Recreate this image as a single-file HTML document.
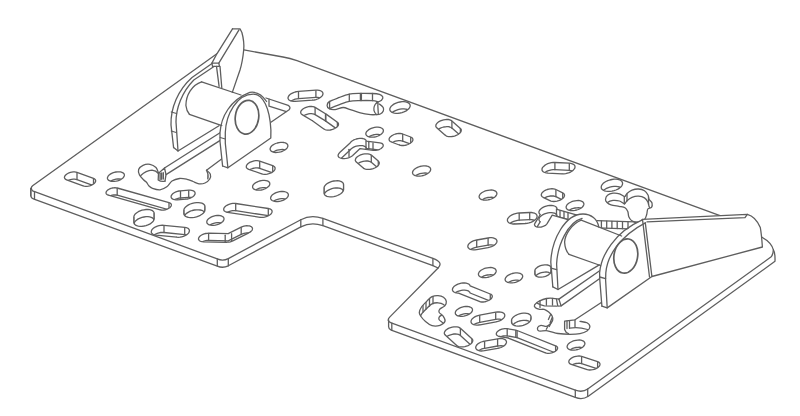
<!DOCTYPE html><html><head><meta charset="utf-8"><title>Mounting plate drawing</title><style>html,body{margin:0;padding:0;background:#fff;overflow:hidden}svg{display:block}</style></head><body><svg width="800" height="416" viewBox="0 0 800 416"><rect width="800" height="416" fill="#fff"/><g fill="none" stroke="#5e5e5e" stroke-width="1.3" stroke-linejoin="round" stroke-linecap="round"><path d="M216.9,53.8 L32.6,185.7 Q30,187.8 32.6,190.9 L217.3,258.9 Q222.8,261.3 228.3,258.6 L300.8,219.7 Q311,214.2 322.9,218.4 L432.9,258.4 Q443.8,262.3 438.1,268 L389.9,316.9 Q385.9,321 391.2,322.9 L575.3,390.2 Q582.4,392.8 587.7,389 L771.2,256.8 Q773.2,254.5 773.4,249.8"/>
<path d="M762,237.2 C768,240.5 772,244.5 773.4,249.8 C775,252 775.2,255 775,261.3 L588.3,396.2 Q582.4,400.2 575.3,397.4 L391.2,330.1 Q388.6,329 388.6,326.8 L388.6,319.8"/>
<path d="M243.9,49.9 L283,57 Q290,58.3 297,60.7 L720,215.7"/>
<path d="M30.8,188.5 L30.8,195.8 Q31,198.2 34,199.2 L217.3,266.1 Q222.8,268.5 228.3,265.8 L300.8,226.9 Q311,221.4 322.9,225.6 L432.9,265.6 L438.1,268"/>
<path d="M30.8,188.5 v7.2"/>
<path d="M34.5,191.6 v7.2"/>
<path d="M217.3,258.9 v7.2"/>
<path d="M228.3,258.6 v7.2"/>
<path d="M300.8,219.7 v7.2"/>
<path d="M322.9,218.4 v7.2"/>
<path d="M432.9,258.4 v7.2"/>
<path d="M391.8,323.1 v7.2"/>
<path d="M575.3,390.2 v7.2"/>
<path d="M587.7,389.0 v7.2"/>
<clipPath id="c1"><path d="M93.5,178.4L94.4,178.8L95.1,179.4L95.5,180.0L95.7,180.8L95.5,181.6L95.1,182.4L94.4,183.2L93.5,184.0L92.4,184.7L91.1,185.3L89.7,185.8L88.3,186.1L86.9,186.3L85.5,186.3L84.2,186.1L83.1,185.8L66.6,179.8L65.7,179.4L65.0,178.8L64.6,178.2L64.4,177.4L64.6,176.6L65.0,175.8L65.7,175.0L66.6,174.2L67.7,173.5L69.0,172.9L70.4,172.4L71.8,172.1L73.2,171.9L74.6,171.9L75.9,172.1L77.0,172.4Z"/></clipPath><g clip-path="url(#c1)"><path d="M93.5,178.4L94.4,178.8L95.1,179.4L95.5,180.0L95.7,180.8L95.5,181.6L95.1,182.4L94.4,183.2L93.5,184.0L92.4,184.7L91.1,185.3L89.7,185.8L88.3,186.1L86.9,186.3L85.5,186.3L84.2,186.1L83.1,185.8L66.6,179.8L65.7,179.4L65.0,178.8L64.6,178.2L64.4,177.4L64.6,176.6L65.0,175.8L65.7,175.0L66.6,174.2L67.7,173.5L69.0,172.9L70.4,172.4L71.8,172.1L73.2,171.9L74.6,171.9L75.9,172.1L77.0,172.4Z" transform="translate(0,7.2)"/><path d="M77.0,172.4v7.2"/><path d="M66.6,179.8v7.2"/><path d="M93.5,178.4v7.2"/><path d="M83.1,185.8v7.2"/></g>
<path d="M93.5,178.4L94.4,178.8L95.1,179.4L95.5,180.0L95.7,180.8L95.5,181.6L95.1,182.4L94.4,183.2L93.5,184.0L92.4,184.7L91.1,185.3L89.7,185.8L88.3,186.1L86.9,186.3L85.5,186.3L84.2,186.1L83.1,185.8L66.6,179.8L65.7,179.4L65.0,178.8L64.6,178.2L64.4,177.4L64.6,176.6L65.0,175.8L65.7,175.0L66.6,174.2L67.7,173.5L69.0,172.9L70.4,172.4L71.8,172.1L73.2,171.9L74.6,171.9L75.9,172.1L77.0,172.4Z"/>
<clipPath id="c2"><path d="M121.9,178.8L120.6,179.6L119.1,180.3L117.6,180.8L115.9,181.2L114.2,181.4L112.7,181.4L111.2,181.3L109.9,180.9L108.8,180.4L108.1,179.8L107.6,179.0L107.4,178.1L107.6,177.2L108.1,176.2L108.8,175.3L109.9,174.4L111.2,173.6L112.7,172.9L114.2,172.4L115.9,172.0L117.6,171.8L119.1,171.8L120.6,171.9L121.9,172.3L123.0,172.8L123.7,173.4L124.2,174.2L124.4,175.1L124.2,176.0L123.7,177.0L123.0,177.9Z"/></clipPath><g clip-path="url(#c2)"><path d="M121.9,178.8L120.6,179.6L119.1,180.3L117.6,180.8L115.9,181.2L114.2,181.4L112.7,181.4L111.2,181.3L109.9,180.9L108.8,180.4L108.1,179.8L107.6,179.0L107.4,178.1L107.6,177.2L108.1,176.2L108.8,175.3L109.9,174.4L111.2,173.6L112.7,172.9L114.2,172.4L115.9,172.0L117.6,171.8L119.1,171.8L120.6,171.9L121.9,172.3L123.0,172.8L123.7,173.4L124.2,174.2L124.4,175.1L124.2,176.0L123.7,177.0L123.0,177.9Z" transform="translate(0,7.2)"/></g>
<path d="M121.9,178.8L120.6,179.6L119.1,180.3L117.6,180.8L115.9,181.2L114.2,181.4L112.7,181.4L111.2,181.3L109.9,180.9L108.8,180.4L108.1,179.8L107.6,179.0L107.4,178.1L107.6,177.2L108.1,176.2L108.8,175.3L109.9,174.4L111.2,173.6L112.7,172.9L114.2,172.4L115.9,172.0L117.6,171.8L119.1,171.8L120.6,171.9L121.9,172.3L123.0,172.8L123.7,173.4L124.2,174.2L124.4,175.1L124.2,176.0L123.7,177.0L123.0,177.9Z"/>
<clipPath id="c3"><path d="M169.0,202.6L169.9,203.0L170.6,203.4L171.1,204.0L171.4,204.7L171.3,205.4L171.1,206.2L170.5,206.9L169.8,207.7L168.8,208.3L167.7,208.9L166.5,209.4L165.2,209.8L163.8,210.0L162.5,210.1L161.3,210.0L160.2,209.8L108.4,195.2L107.5,194.8L106.8,194.4L106.3,193.8L106.0,193.1L106.1,192.4L106.3,191.6L106.9,190.9L107.6,190.1L108.6,189.5L109.7,188.9L110.9,188.4L112.2,188.0L113.6,187.8L114.9,187.7L116.1,187.8L117.2,188.0Z"/></clipPath><g clip-path="url(#c3)"><path d="M169.0,202.6L169.9,203.0L170.6,203.4L171.1,204.0L171.4,204.7L171.3,205.4L171.1,206.2L170.5,206.9L169.8,207.7L168.8,208.3L167.7,208.9L166.5,209.4L165.2,209.8L163.8,210.0L162.5,210.1L161.3,210.0L160.2,209.8L108.4,195.2L107.5,194.8L106.8,194.4L106.3,193.8L106.0,193.1L106.1,192.4L106.3,191.6L106.9,190.9L107.6,190.1L108.6,189.5L109.7,188.9L110.9,188.4L112.2,188.0L113.6,187.8L114.9,187.7L116.1,187.8L117.2,188.0Z" transform="translate(0,7.2)"/><path d="M117.2,188.0v7.2"/><path d="M108.4,195.2v7.2"/><path d="M169.0,202.6v7.2"/><path d="M160.2,209.8v7.2"/></g>
<path d="M169.0,202.6L169.9,203.0L170.6,203.4L171.1,204.0L171.4,204.7L171.3,205.4L171.1,206.2L170.5,206.9L169.8,207.7L168.8,208.3L167.7,208.9L166.5,209.4L165.2,209.8L163.8,210.0L162.5,210.1L161.3,210.0L160.2,209.8L108.4,195.2L107.5,194.8L106.8,194.4L106.3,193.8L106.0,193.1L106.1,192.4L106.3,191.6L106.9,190.9L107.6,190.1L108.6,189.5L109.7,188.9L110.9,188.4L112.2,188.0L113.6,187.8L114.9,187.7L116.1,187.8L117.2,188.0Z"/>
<clipPath id="c4"><path d="M188.7,190.2L190.2,190.2L191.6,190.3L192.8,190.7L193.8,191.1L194.5,191.7L195.0,192.5L195.1,193.3L195.0,194.1L194.5,195.0L193.8,195.9L192.8,196.7L191.6,197.5L190.3,198.1L188.8,198.6L187.3,199.0L185.7,199.2L177.5,199.8L176.0,199.8L174.6,199.7L173.4,199.3L172.4,198.9L171.7,198.3L171.2,197.5L171.1,196.7L171.2,195.9L171.7,195.0L172.4,194.1L173.4,193.3L174.6,192.5L175.9,191.9L177.4,191.4L178.9,191.0L180.5,190.8Z"/></clipPath><g clip-path="url(#c4)"><path d="M188.7,190.2L190.2,190.2L191.6,190.3L192.8,190.7L193.8,191.1L194.5,191.7L195.0,192.5L195.1,193.3L195.0,194.1L194.5,195.0L193.8,195.9L192.8,196.7L191.6,197.5L190.3,198.1L188.8,198.6L187.3,199.0L185.7,199.2L177.5,199.8L176.0,199.8L174.6,199.7L173.4,199.3L172.4,198.9L171.7,198.3L171.2,197.5L171.1,196.7L171.2,195.9L171.7,195.0L172.4,194.1L173.4,193.3L174.6,192.5L175.9,191.9L177.4,191.4L178.9,191.0L180.5,190.8Z" transform="translate(0,7.2)"/><path d="M180.5,190.8v7.2"/><path d="M177.5,199.8v7.2"/><path d="M188.7,190.2v7.2"/><path d="M185.7,199.2v7.2"/></g>
<path d="M188.7,190.2L190.2,190.2L191.6,190.3L192.8,190.7L193.8,191.1L194.5,191.7L195.0,192.5L195.1,193.3L195.0,194.1L194.5,195.0L193.8,195.9L192.8,196.7L191.6,197.5L190.3,198.1L188.8,198.6L187.3,199.0L185.7,199.2L177.5,199.8L176.0,199.8L174.6,199.7L173.4,199.3L172.4,198.9L171.7,198.3L171.2,197.5L171.1,196.7L171.2,195.9L171.7,195.0L172.4,194.1L173.4,193.3L174.6,192.5L175.9,191.9L177.4,191.4L178.9,191.0L180.5,190.8Z"/>
<clipPath id="c5"><path d="M154.2,218.7L154.0,219.8L153.4,220.9L152.5,222.1L151.2,223.1L149.7,224.1L147.9,224.9L146.0,225.6L144.0,226.0L142.0,226.3L140.1,226.3L138.3,226.1L136.8,225.7L135.5,225.1L134.6,224.3L134.0,223.4L133.8,222.3L133.8,217.1L134.0,216.0L134.6,214.9L135.5,213.7L136.8,212.7L138.3,211.7L140.1,210.9L142.0,210.2L144.0,209.8L146.0,209.5L147.9,209.5L149.7,209.7L151.2,210.1L152.5,210.7L153.4,211.5L154.0,212.4L154.2,213.5Z"/></clipPath><g clip-path="url(#c5)"><path d="M154.2,218.7L154.0,219.8L153.4,220.9L152.5,222.1L151.2,223.1L149.7,224.1L147.9,224.9L146.0,225.6L144.0,226.0L142.0,226.3L140.1,226.3L138.3,226.1L136.8,225.7L135.5,225.1L134.6,224.3L134.0,223.4L133.8,222.3L133.8,217.1L134.0,216.0L134.6,214.9L135.5,213.7L136.8,212.7L138.3,211.7L140.1,210.9L142.0,210.2L144.0,209.8L146.0,209.5L147.9,209.5L149.7,209.7L151.2,210.1L152.5,210.7L153.4,211.5L154.0,212.4L154.2,213.5Z" transform="translate(0,7.2)"/><path d="M154.2,213.5v7.2"/><path d="M133.8,217.1v7.2"/><path d="M154.2,218.7v7.2"/><path d="M133.8,222.3v7.2"/></g>
<path d="M154.2,218.7L154.0,219.8L153.4,220.9L152.5,222.1L151.2,223.1L149.7,224.1L147.9,224.9L146.0,225.6L144.0,226.0L142.0,226.3L140.1,226.3L138.3,226.1L136.8,225.7L135.5,225.1L134.6,224.3L134.0,223.4L133.8,222.3L133.8,217.1L134.0,216.0L134.6,214.9L135.5,213.7L136.8,212.7L138.3,211.7L140.1,210.9L142.0,210.2L144.0,209.8L146.0,209.5L147.9,209.5L149.7,209.7L151.2,210.1L152.5,210.7L153.4,211.5L154.0,212.4L154.2,213.5Z"/>
<clipPath id="c6"><path d="M205.0,209.7L204.8,210.9L204.2,212.1L203.2,213.2L201.9,214.3L200.3,215.3L198.5,216.2L196.5,216.9L194.4,217.4L192.3,217.6L190.3,217.6L188.5,217.4L186.9,217.0L185.6,216.4L184.6,215.5L184.0,214.6L183.8,213.5L183.8,210.5L184.0,209.3L184.6,208.1L185.6,207.0L186.9,205.9L188.5,204.9L190.3,204.0L192.3,203.3L194.4,202.8L196.5,202.6L198.5,202.6L200.3,202.8L201.9,203.2L203.2,203.8L204.2,204.7L204.8,205.6L205.0,206.7Z"/></clipPath><g clip-path="url(#c6)"><path d="M205.0,209.7L204.8,210.9L204.2,212.1L203.2,213.2L201.9,214.3L200.3,215.3L198.5,216.2L196.5,216.9L194.4,217.4L192.3,217.6L190.3,217.6L188.5,217.4L186.9,217.0L185.6,216.4L184.6,215.5L184.0,214.6L183.8,213.5L183.8,210.5L184.0,209.3L184.6,208.1L185.6,207.0L186.9,205.9L188.5,204.9L190.3,204.0L192.3,203.3L194.4,202.8L196.5,202.6L198.5,202.6L200.3,202.8L201.9,203.2L203.2,203.8L204.2,204.7L204.8,205.6L205.0,206.7Z" transform="translate(0,7.2)"/><path d="M205.0,206.7v7.2"/><path d="M183.8,210.5v7.2"/><path d="M205.0,209.7v7.2"/><path d="M183.8,213.5v7.2"/></g>
<path d="M205.0,209.7L204.8,210.9L204.2,212.1L203.2,213.2L201.9,214.3L200.3,215.3L198.5,216.2L196.5,216.9L194.4,217.4L192.3,217.6L190.3,217.6L188.5,217.4L186.9,217.0L185.6,216.4L184.6,215.5L184.0,214.6L183.8,213.5L183.8,210.5L184.0,209.3L184.6,208.1L185.6,207.0L186.9,205.9L188.5,204.9L190.3,204.0L192.3,203.3L194.4,202.8L196.5,202.6L198.5,202.6L200.3,202.8L201.9,203.2L203.2,203.8L204.2,204.7L204.8,205.6L205.0,206.7Z"/>
<clipPath id="c7"><path d="M221.5,222.6L220.2,223.4L218.7,224.1L217.1,224.7L215.4,225.1L213.7,225.3L212.1,225.3L210.6,225.1L209.3,224.8L208.2,224.3L207.4,223.6L206.9,222.8L206.8,221.9L206.9,221.0L207.4,220.0L208.2,219.1L209.3,218.2L210.6,217.4L212.1,216.7L213.7,216.1L215.4,215.7L217.1,215.5L218.7,215.5L220.2,215.7L221.5,216.0L222.6,216.5L223.4,217.2L223.9,218.0L224.0,218.9L223.9,219.8L223.4,220.8L222.6,221.7Z"/></clipPath><g clip-path="url(#c7)"><path d="M221.5,222.6L220.2,223.4L218.7,224.1L217.1,224.7L215.4,225.1L213.7,225.3L212.1,225.3L210.6,225.1L209.3,224.8L208.2,224.3L207.4,223.6L206.9,222.8L206.8,221.9L206.9,221.0L207.4,220.0L208.2,219.1L209.3,218.2L210.6,217.4L212.1,216.7L213.7,216.1L215.4,215.7L217.1,215.5L218.7,215.5L220.2,215.7L221.5,216.0L222.6,216.5L223.4,217.2L223.9,218.0L224.0,218.9L223.9,219.8L223.4,220.8L222.6,221.7Z" transform="translate(0,7.2)"/></g>
<path d="M221.5,222.6L220.2,223.4L218.7,224.1L217.1,224.7L215.4,225.1L213.7,225.3L212.1,225.3L210.6,225.1L209.3,224.8L208.2,224.3L207.4,223.6L206.9,222.8L206.8,221.9L206.9,221.0L207.4,220.0L208.2,219.1L209.3,218.2L210.6,217.4L212.1,216.7L213.7,216.1L215.4,215.7L217.1,215.5L218.7,215.5L220.2,215.7L221.5,216.0L222.6,216.5L223.4,217.2L223.9,218.0L224.0,218.9L223.9,219.8L223.4,220.8L222.6,221.7Z"/>
<clipPath id="c8"><path d="M184.7,227.4L186.2,227.6L187.4,228.0L188.4,228.6L189.0,229.4L189.4,230.2L189.4,231.1L189.1,232.1L188.5,233.1L187.6,234.0L186.4,234.9L185.0,235.7L183.4,236.4L181.7,236.8L180.0,237.2L178.3,237.3L176.7,237.2L156.0,235.1L154.5,234.9L153.3,234.5L152.3,233.9L151.7,233.1L151.3,232.3L151.3,231.4L151.6,230.4L152.2,229.4L153.1,228.5L154.3,227.6L155.7,226.8L157.3,226.1L159.0,225.7L160.7,225.3L162.4,225.2L164.0,225.3Z"/></clipPath><g clip-path="url(#c8)"><path d="M184.7,227.4L186.2,227.6L187.4,228.0L188.4,228.6L189.0,229.4L189.4,230.2L189.4,231.1L189.1,232.1L188.5,233.1L187.6,234.0L186.4,234.9L185.0,235.7L183.4,236.4L181.7,236.8L180.0,237.2L178.3,237.3L176.7,237.2L156.0,235.1L154.5,234.9L153.3,234.5L152.3,233.9L151.7,233.1L151.3,232.3L151.3,231.4L151.6,230.4L152.2,229.4L153.1,228.5L154.3,227.6L155.7,226.8L157.3,226.1L159.0,225.7L160.7,225.3L162.4,225.2L164.0,225.3Z" transform="translate(0,7.2)"/><path d="M164.0,225.3v7.2"/><path d="M156.0,235.1v7.2"/><path d="M184.7,227.4v7.2"/><path d="M176.7,237.2v7.2"/></g>
<path d="M184.7,227.4L186.2,227.6L187.4,228.0L188.4,228.6L189.0,229.4L189.4,230.2L189.4,231.1L189.1,232.1L188.5,233.1L187.6,234.0L186.4,234.9L185.0,235.7L183.4,236.4L181.7,236.8L180.0,237.2L178.3,237.3L176.7,237.2L156.0,235.1L154.5,234.9L153.3,234.5L152.3,233.9L151.7,233.1L151.3,232.3L151.3,231.4L151.6,230.4L152.2,229.4L153.1,228.5L154.3,227.6L155.7,226.8L157.3,226.1L159.0,225.7L160.7,225.3L162.4,225.2L164.0,225.3Z"/>
<clipPath id="c9"><path d="M268.3,208.5L269.6,208.8L270.6,209.2L271.4,209.8L271.9,210.5L272.1,211.3L272.0,212.2L271.6,213.1L271.0,213.9L270.0,214.8L268.9,215.5L267.5,216.2L266.1,216.7L264.5,217.1L263.0,217.4L261.5,217.4L260.1,217.3L227.5,212.3L226.2,212.0L225.2,211.6L224.4,211.0L223.9,210.3L223.7,209.5L223.8,208.6L224.2,207.7L224.8,206.9L225.8,206.0L226.9,205.3L228.3,204.6L229.7,204.1L231.3,203.7L232.8,203.4L234.3,203.4L235.7,203.5Z"/></clipPath><g clip-path="url(#c9)"><path d="M268.3,208.5L269.6,208.8L270.6,209.2L271.4,209.8L271.9,210.5L272.1,211.3L272.0,212.2L271.6,213.1L271.0,213.9L270.0,214.8L268.9,215.5L267.5,216.2L266.1,216.7L264.5,217.1L263.0,217.4L261.5,217.4L260.1,217.3L227.5,212.3L226.2,212.0L225.2,211.6L224.4,211.0L223.9,210.3L223.7,209.5L223.8,208.6L224.2,207.7L224.8,206.9L225.8,206.0L226.9,205.3L228.3,204.6L229.7,204.1L231.3,203.7L232.8,203.4L234.3,203.4L235.7,203.5Z" transform="translate(0,7.2)"/><path d="M235.7,203.5v7.2"/><path d="M227.5,212.3v7.2"/><path d="M268.3,208.5v7.2"/><path d="M260.1,217.3v7.2"/></g>
<path d="M268.3,208.5L269.6,208.8L270.6,209.2L271.4,209.8L271.9,210.5L272.1,211.3L272.0,212.2L271.6,213.1L271.0,213.9L270.0,214.8L268.9,215.5L267.5,216.2L266.1,216.7L264.5,217.1L263.0,217.4L261.5,217.4L260.1,217.3L227.5,212.3L226.2,212.0L225.2,211.6L224.4,211.0L223.9,210.3L223.7,209.5L223.8,208.6L224.2,207.7L224.8,206.9L225.8,206.0L226.9,205.3L228.3,204.6L229.7,204.1L231.3,203.7L232.8,203.4L234.3,203.4L235.7,203.5Z"/>
<clipPath id="c10"><path d="M285.3,149.7L283.9,150.5L282.4,151.3L280.7,151.8L279.0,152.2L277.3,152.4L275.6,152.5L274.1,152.3L272.7,151.9L271.6,151.4L270.8,150.7L270.3,149.9L270.1,149.0L270.3,148.0L270.8,147.0L271.6,146.0L272.7,145.1L274.1,144.3L275.6,143.5L277.3,143.0L279.0,142.6L280.7,142.4L282.4,142.3L283.9,142.5L285.3,142.9L286.4,143.4L287.2,144.1L287.7,144.9L287.9,145.8L287.7,146.8L287.2,147.8L286.4,148.8Z"/></clipPath><g clip-path="url(#c10)"><path d="M285.3,149.7L283.9,150.5L282.4,151.3L280.7,151.8L279.0,152.2L277.3,152.4L275.6,152.5L274.1,152.3L272.7,151.9L271.6,151.4L270.8,150.7L270.3,149.9L270.1,149.0L270.3,148.0L270.8,147.0L271.6,146.0L272.7,145.1L274.1,144.3L275.6,143.5L277.3,143.0L279.0,142.6L280.7,142.4L282.4,142.3L283.9,142.5L285.3,142.9L286.4,143.4L287.2,144.1L287.7,144.9L287.9,145.8L287.7,146.8L287.2,147.8L286.4,148.8Z" transform="translate(0,7.2)"/></g>
<path d="M285.3,149.7L283.9,150.5L282.4,151.3L280.7,151.8L279.0,152.2L277.3,152.4L275.6,152.5L274.1,152.3L272.7,151.9L271.6,151.4L270.8,150.7L270.3,149.9L270.1,149.0L270.3,148.0L270.8,147.0L271.6,146.0L272.7,145.1L274.1,144.3L275.6,143.5L277.3,143.0L279.0,142.6L280.7,142.4L282.4,142.3L283.9,142.5L285.3,142.9L286.4,143.4L287.2,144.1L287.7,144.9L287.9,145.8L287.7,146.8L287.2,147.8L286.4,148.8Z"/>
<clipPath id="c11"><path d="M272.7,165.7L273.7,166.2L274.5,166.8L275.0,167.5L275.1,168.3L275.0,169.2L274.5,170.1L273.8,171.0L272.9,171.8L271.7,172.6L270.3,173.2L268.8,173.7L267.3,174.1L265.7,174.3L264.2,174.3L262.9,174.2L261.7,173.9L248.7,169.3L247.7,168.8L246.9,168.2L246.4,167.5L246.3,166.7L246.4,165.8L246.9,164.9L247.6,164.0L248.5,163.2L249.7,162.4L251.1,161.8L252.6,161.3L254.1,160.9L255.7,160.7L257.2,160.7L258.5,160.8L259.7,161.1Z"/></clipPath><g clip-path="url(#c11)"><path d="M272.7,165.7L273.7,166.2L274.5,166.8L275.0,167.5L275.1,168.3L275.0,169.2L274.5,170.1L273.8,171.0L272.9,171.8L271.7,172.6L270.3,173.2L268.8,173.7L267.3,174.1L265.7,174.3L264.2,174.3L262.9,174.2L261.7,173.9L248.7,169.3L247.7,168.8L246.9,168.2L246.4,167.5L246.3,166.7L246.4,165.8L246.9,164.9L247.6,164.0L248.5,163.2L249.7,162.4L251.1,161.8L252.6,161.3L254.1,160.9L255.7,160.7L257.2,160.7L258.5,160.8L259.7,161.1Z" transform="translate(0,7.2)"/><path d="M259.7,161.1v7.2"/><path d="M248.7,169.3v7.2"/><path d="M272.7,165.7v7.2"/><path d="M261.7,173.9v7.2"/></g>
<path d="M272.7,165.7L273.7,166.2L274.5,166.8L275.0,167.5L275.1,168.3L275.0,169.2L274.5,170.1L273.8,171.0L272.9,171.8L271.7,172.6L270.3,173.2L268.8,173.7L267.3,174.1L265.7,174.3L264.2,174.3L262.9,174.2L261.7,173.9L248.7,169.3L247.7,168.8L246.9,168.2L246.4,167.5L246.3,166.7L246.4,165.8L246.9,164.9L247.6,164.0L248.5,163.2L249.7,162.4L251.1,161.8L252.6,161.3L254.1,160.9L255.7,160.7L257.2,160.7L258.5,160.8L259.7,161.1Z"/>
<clipPath id="c12"><path d="M267.3,187.5L266.0,188.3L264.5,189.0L262.9,189.6L261.2,190.0L259.5,190.2L257.9,190.2L256.4,190.0L255.1,189.7L254.0,189.2L253.2,188.5L252.7,187.7L252.6,186.8L252.7,185.9L253.2,184.9L254.0,184.0L255.1,183.1L256.4,182.3L257.9,181.6L259.5,181.0L261.2,180.6L262.9,180.4L264.5,180.4L266.0,180.6L267.3,180.9L268.4,181.4L269.2,182.1L269.7,182.9L269.8,183.8L269.7,184.7L269.2,185.7L268.4,186.6Z"/></clipPath><g clip-path="url(#c12)"><path d="M267.3,187.5L266.0,188.3L264.5,189.0L262.9,189.6L261.2,190.0L259.5,190.2L257.9,190.2L256.4,190.0L255.1,189.7L254.0,189.2L253.2,188.5L252.7,187.7L252.6,186.8L252.7,185.9L253.2,184.9L254.0,184.0L255.1,183.1L256.4,182.3L257.9,181.6L259.5,181.0L261.2,180.6L262.9,180.4L264.5,180.4L266.0,180.6L267.3,180.9L268.4,181.4L269.2,182.1L269.7,182.9L269.8,183.8L269.7,184.7L269.2,185.7L268.4,186.6Z" transform="translate(0,7.2)"/></g>
<path d="M267.3,187.5L266.0,188.3L264.5,189.0L262.9,189.6L261.2,190.0L259.5,190.2L257.9,190.2L256.4,190.0L255.1,189.7L254.0,189.2L253.2,188.5L252.7,187.7L252.6,186.8L252.7,185.9L253.2,184.9L254.0,184.0L255.1,183.1L256.4,182.3L257.9,181.6L259.5,181.0L261.2,180.6L262.9,180.4L264.5,180.4L266.0,180.6L267.3,180.9L268.4,181.4L269.2,182.1L269.7,182.9L269.8,183.8L269.7,184.7L269.2,185.7L268.4,186.6Z"/>
<clipPath id="c13"><path d="M285.8,198.8L284.4,199.6L282.9,200.4L281.2,200.9L279.5,201.3L277.8,201.5L276.1,201.6L274.6,201.4L273.2,201.0L272.1,200.5L271.3,199.8L270.8,199.0L270.6,198.1L270.8,197.1L271.3,196.1L272.1,195.1L273.2,194.2L274.6,193.4L276.1,192.6L277.8,192.1L279.5,191.7L281.2,191.5L282.9,191.4L284.4,191.6L285.8,192.0L286.9,192.5L287.7,193.2L288.2,194.0L288.4,194.9L288.2,195.9L287.7,196.9L286.9,197.9Z"/></clipPath><g clip-path="url(#c13)"><path d="M285.8,198.8L284.4,199.6L282.9,200.4L281.2,200.9L279.5,201.3L277.8,201.5L276.1,201.6L274.6,201.4L273.2,201.0L272.1,200.5L271.3,199.8L270.8,199.0L270.6,198.1L270.8,197.1L271.3,196.1L272.1,195.1L273.2,194.2L274.6,193.4L276.1,192.6L277.8,192.1L279.5,191.7L281.2,191.5L282.9,191.4L284.4,191.6L285.8,192.0L286.9,192.5L287.7,193.2L288.2,194.0L288.4,194.9L288.2,195.9L287.7,196.9L286.9,197.9Z" transform="translate(0,7.2)"/></g>
<path d="M285.8,198.8L284.4,199.6L282.9,200.4L281.2,200.9L279.5,201.3L277.8,201.5L276.1,201.6L274.6,201.4L273.2,201.0L272.1,200.5L271.3,199.8L270.8,199.0L270.6,198.1L270.8,197.1L271.3,196.1L272.1,195.1L273.2,194.2L274.6,193.4L276.1,192.6L277.8,192.1L279.5,191.7L281.2,191.5L282.9,191.4L284.4,191.6L285.8,192.0L286.9,192.5L287.7,193.2L288.2,194.0L288.4,194.9L288.2,195.9L287.7,196.9L286.9,197.9Z"/>
<clipPath id="c14"><path d="M343.6,189.6L343.4,190.6L342.8,191.7L341.9,192.8L340.7,193.8L339.2,194.7L337.5,195.5L335.7,196.2L333.8,196.6L331.9,196.8L330.1,196.9L328.4,196.7L326.9,196.3L325.7,195.7L324.8,194.9L324.2,194.0L324.0,193.0L324.0,188.0L324.2,187.0L324.8,185.9L325.7,184.8L326.9,183.8L328.4,182.9L330.1,182.1L331.9,181.4L333.8,181.0L335.7,180.8L337.5,180.7L339.2,180.9L340.7,181.3L341.9,181.9L342.8,182.7L343.4,183.6L343.6,184.6Z"/></clipPath><g clip-path="url(#c14)"><path d="M343.6,189.6L343.4,190.6L342.8,191.7L341.9,192.8L340.7,193.8L339.2,194.7L337.5,195.5L335.7,196.2L333.8,196.6L331.9,196.8L330.1,196.9L328.4,196.7L326.9,196.3L325.7,195.7L324.8,194.9L324.2,194.0L324.0,193.0L324.0,188.0L324.2,187.0L324.8,185.9L325.7,184.8L326.9,183.8L328.4,182.9L330.1,182.1L331.9,181.4L333.8,181.0L335.7,180.8L337.5,180.7L339.2,180.9L340.7,181.3L341.9,181.9L342.8,182.7L343.4,183.6L343.6,184.6Z" transform="translate(0,7.2)"/><path d="M343.6,184.6v7.2"/><path d="M324.0,188.0v7.2"/><path d="M343.6,189.6v7.2"/><path d="M324.0,193.0v7.2"/></g>
<path d="M343.6,189.6L343.4,190.6L342.8,191.7L341.9,192.8L340.7,193.8L339.2,194.7L337.5,195.5L335.7,196.2L333.8,196.6L331.9,196.8L330.1,196.9L328.4,196.7L326.9,196.3L325.7,195.7L324.8,194.9L324.2,194.0L324.0,193.0L324.0,188.0L324.2,187.0L324.8,185.9L325.7,184.8L326.9,183.8L328.4,182.9L330.1,182.1L331.9,181.4L333.8,181.0L335.7,180.8L337.5,180.7L339.2,180.9L340.7,181.3L341.9,181.9L342.8,182.7L343.4,183.6L343.6,184.6Z"/>
<clipPath id="c15"><path d="M228.2,233.7L241.2,227.2L242.5,226.6L243.9,226.2L245.4,225.9L246.8,225.7L248.2,225.8L249.5,225.9L250.6,226.3L251.4,226.8L252.1,227.4L252.4,228.1L252.5,228.9L252.3,229.7L251.8,230.6L251.0,231.4L250.0,232.1L248.8,232.8L232.8,240.8L231.6,241.3L230.3,241.8L229.0,242.1L227.7,242.2L226.4,242.3L203.4,241.8L202.1,241.7L200.9,241.4L199.9,241.0L199.2,240.4L198.7,239.7L198.5,239.0L198.6,238.2L199.0,237.3L199.6,236.5L200.5,235.7L201.6,235.0L202.9,234.4L204.2,233.9L205.7,233.5L207.2,233.3L208.6,233.2Z"/></clipPath><g clip-path="url(#c15)"><path d="M228.2,233.7L241.2,227.2L242.5,226.6L243.9,226.2L245.4,225.9L246.8,225.7L248.2,225.8L249.5,225.9L250.6,226.3L251.4,226.8L252.1,227.4L252.4,228.1L252.5,228.9L252.3,229.7L251.8,230.6L251.0,231.4L250.0,232.1L248.8,232.8L232.8,240.8L231.6,241.3L230.3,241.8L229.0,242.1L227.7,242.2L226.4,242.3L203.4,241.8L202.1,241.7L200.9,241.4L199.9,241.0L199.2,240.4L198.7,239.7L198.5,239.0L198.6,238.2L199.0,237.3L199.6,236.5L200.5,235.7L201.6,235.0L202.9,234.4L204.2,233.9L205.7,233.5L207.2,233.3L208.6,233.2Z" transform="translate(0,7.2)"/><path d="M208.6,233.2v7.2"/><path d="M203.4,241.8v7.2"/><path d="M231.6,233.7v7.2"/><path d="M226.4,242.3v7.2"/><path d="M225.2,235.2v7.2"/><path d="M232.8,240.8v7.2"/><path d="M241.2,227.2v7.2"/><path d="M248.8,232.8v7.2"/></g>
<path d="M228.2,233.7L241.2,227.2L242.5,226.6L243.9,226.2L245.4,225.9L246.8,225.7L248.2,225.8L249.5,225.9L250.6,226.3L251.4,226.8L252.1,227.4L252.4,228.1L252.5,228.9L252.3,229.7L251.8,230.6L251.0,231.4L250.0,232.1L248.8,232.8L232.8,240.8L231.6,241.3L230.3,241.8L229.0,242.1L227.7,242.2L226.4,242.3L203.4,241.8L202.1,241.7L200.9,241.4L199.9,241.0L199.2,240.4L198.7,239.7L198.5,239.0L198.6,238.2L199.0,237.3L199.6,236.5L200.5,235.7L201.6,235.0L202.9,234.4L204.2,233.9L205.7,233.5L207.2,233.3L208.6,233.2Z"/>
<clipPath id="c16"><path d="M315.9,90.2L317.6,90.2L319.1,90.4L320.4,90.7L321.5,91.3L322.3,91.9L322.8,92.8L323.0,93.6L322.8,94.6L322.3,95.6L321.5,96.6L320.4,97.5L319.1,98.3L317.5,99.0L315.9,99.6L314.2,100.0L312.5,100.2L295.1,101.4L293.4,101.4L291.9,101.2L290.6,100.9L289.5,100.3L288.7,99.7L288.2,98.8L288.0,98.0L288.2,97.0L288.7,96.0L289.5,95.0L290.6,94.1L291.9,93.3L293.5,92.6L295.1,92.0L296.8,91.6L298.5,91.4Z"/></clipPath><g clip-path="url(#c16)"><path d="M315.9,90.2L317.6,90.2L319.1,90.4L320.4,90.7L321.5,91.3L322.3,91.9L322.8,92.8L323.0,93.6L322.8,94.6L322.3,95.6L321.5,96.6L320.4,97.5L319.1,98.3L317.5,99.0L315.9,99.6L314.2,100.0L312.5,100.2L295.1,101.4L293.4,101.4L291.9,101.2L290.6,100.9L289.5,100.3L288.7,99.7L288.2,98.8L288.0,98.0L288.2,97.0L288.7,96.0L289.5,95.0L290.6,94.1L291.9,93.3L293.5,92.6L295.1,92.0L296.8,91.6L298.5,91.4Z" transform="translate(0,7.2)"/><path d="M298.5,91.4v7.2"/><path d="M295.1,101.4v7.2"/><path d="M315.9,90.2v7.2"/><path d="M312.5,100.2v7.2"/></g>
<path d="M315.9,90.2L317.6,90.2L319.1,90.4L320.4,90.7L321.5,91.3L322.3,91.9L322.8,92.8L323.0,93.6L322.8,94.6L322.3,95.6L321.5,96.6L320.4,97.5L319.1,98.3L317.5,99.0L315.9,99.6L314.2,100.0L312.5,100.2L295.1,101.4L293.4,101.4L291.9,101.2L290.6,100.9L289.5,100.3L288.7,99.7L288.2,98.8L288.0,98.0L288.2,97.0L288.7,96.0L289.5,95.0L290.6,94.1L291.9,93.3L293.5,92.6L295.1,92.0L296.8,91.6L298.5,91.4Z"/>
<clipPath id="c17"><path d="M325.5,113.7L325.8,113.9L337.4,122.2L338.0,122.8L338.4,123.6L338.5,124.4L338.3,125.3L337.8,126.1L337.0,127.0L336.0,127.8L334.7,128.5L333.3,129.2L331.8,129.6L330.3,130.0L328.7,130.1L327.3,130.1L325.9,129.9L324.8,129.5L323.8,129.0L312.4,120.8L302.1,114.6L301.3,114.0L300.9,113.3L300.7,112.5L300.8,111.6L301.2,110.7L301.9,109.9L302.9,109.0L304.1,108.3L305.4,107.6L306.9,107.1L308.5,106.7L310.0,106.5L311.5,106.5L312.9,106.6L314.1,106.9L315.1,107.4Z"/></clipPath><g clip-path="url(#c17)"><path d="M325.5,113.7L325.8,113.9L337.4,122.2L338.0,122.8L338.4,123.6L338.5,124.4L338.3,125.3L337.8,126.1L337.0,127.0L336.0,127.8L334.7,128.5L333.3,129.2L331.8,129.6L330.3,130.0L328.7,130.1L327.3,130.1L325.9,129.9L324.8,129.5L323.8,129.0L312.4,120.8L302.1,114.6L301.3,114.0L300.9,113.3L300.7,112.5L300.8,111.6L301.2,110.7L301.9,109.9L302.9,109.0L304.1,108.3L305.4,107.6L306.9,107.1L308.5,106.7L310.0,106.5L311.5,106.5L312.9,106.6L314.1,106.9L315.1,107.4Z" transform="translate(0,7.2)"/><path d="M315.1,107.4v7.2"/><path d="M302.1,114.6v7.2"/><path d="M325.5,113.7v7.2"/><path d="M312.5,120.9v7.2"/><path d="M325.8,113.9v7.2"/><path d="M312.2,120.7v7.2"/><path d="M337.4,122.2v7.2"/><path d="M323.8,129.0v7.2"/></g>
<path d="M325.5,113.7L325.8,113.9L337.4,122.2L338.0,122.8L338.4,123.6L338.5,124.4L338.3,125.3L337.8,126.1L337.0,127.0L336.0,127.8L334.7,128.5L333.3,129.2L331.8,129.6L330.3,130.0L328.7,130.1L327.3,130.1L325.9,129.9L324.8,129.5L323.8,129.0L312.4,120.8L302.1,114.6L301.3,114.0L300.9,113.3L300.7,112.5L300.8,111.6L301.2,110.7L301.9,109.9L302.9,109.0L304.1,108.3L305.4,107.6L306.9,107.1L308.5,106.7L310.0,106.5L311.5,106.5L312.9,106.6L314.1,106.9L315.1,107.4Z"/>
<clipPath id="c18"><path d="M380.8,134.5L379.5,135.3L378.0,136.0L376.3,136.6L374.6,137.0L372.9,137.2L371.2,137.2L369.7,137.0L368.4,136.7L367.3,136.1L366.5,135.5L366.0,134.7L365.8,133.8L366.0,132.8L366.5,131.8L367.3,130.9L368.4,129.9L369.7,129.1L371.2,128.4L372.9,127.8L374.6,127.4L376.3,127.2L378.0,127.2L379.5,127.4L380.8,127.7L381.9,128.3L382.7,128.9L383.2,129.7L383.4,130.6L383.2,131.6L382.7,132.6L381.9,133.5Z"/></clipPath><g clip-path="url(#c18)"><path d="M380.8,134.5L379.5,135.3L378.0,136.0L376.3,136.6L374.6,137.0L372.9,137.2L371.2,137.2L369.7,137.0L368.4,136.7L367.3,136.1L366.5,135.5L366.0,134.7L365.8,133.8L366.0,132.8L366.5,131.8L367.3,130.9L368.4,129.9L369.7,129.1L371.2,128.4L372.9,127.8L374.6,127.4L376.3,127.2L378.0,127.2L379.5,127.4L380.8,127.7L381.9,128.3L382.7,128.9L383.2,129.7L383.4,130.6L383.2,131.6L382.7,132.6L381.9,133.5Z" transform="translate(0,7.2)"/></g>
<path d="M380.8,134.5L379.5,135.3L378.0,136.0L376.3,136.6L374.6,137.0L372.9,137.2L371.2,137.2L369.7,137.0L368.4,136.7L367.3,136.1L366.5,135.5L366.0,134.7L365.8,133.8L366.0,132.8L366.5,131.8L367.3,130.9L368.4,129.9L369.7,129.1L371.2,128.4L372.9,127.8L374.6,127.4L376.3,127.2L378.0,127.2L379.5,127.4L380.8,127.7L381.9,128.3L382.7,128.9L383.2,129.7L383.4,130.6L383.2,131.6L382.7,132.6L381.9,133.5Z"/>
<clipPath id="c19"><path d="M407.2,110.1L405.7,111.1L403.9,111.9L402.0,112.6L400.0,113.0L398.0,113.3L396.1,113.3L394.3,113.1L392.8,112.7L391.5,112.1L390.6,111.3L390.0,110.4L389.8,109.3L390.0,108.2L390.6,107.1L391.5,105.9L392.8,104.9L394.3,103.9L396.1,103.1L398.0,102.4L400.0,102.0L402.0,101.7L403.9,101.7L405.7,101.9L407.2,102.3L408.5,102.9L409.4,103.7L410.0,104.6L410.2,105.7L410.0,106.8L409.4,107.9L408.5,109.1Z"/></clipPath><g clip-path="url(#c19)"><path d="M407.2,110.1L405.7,111.1L403.9,111.9L402.0,112.6L400.0,113.0L398.0,113.3L396.1,113.3L394.3,113.1L392.8,112.7L391.5,112.1L390.6,111.3L390.0,110.4L389.8,109.3L390.0,108.2L390.6,107.1L391.5,105.9L392.8,104.9L394.3,103.9L396.1,103.1L398.0,102.4L400.0,102.0L402.0,101.7L403.9,101.7L405.7,101.9L407.2,102.3L408.5,102.9L409.4,103.7L410.0,104.6L410.2,105.7L410.0,106.8L409.4,107.9L408.5,109.1Z" transform="translate(0,7.2)"/></g>
<path d="M407.2,110.1L405.7,111.1L403.9,111.9L402.0,112.6L400.0,113.0L398.0,113.3L396.1,113.3L394.3,113.1L392.8,112.7L391.5,112.1L390.6,111.3L390.0,110.4L389.8,109.3L390.0,108.2L390.6,107.1L391.5,105.9L392.8,104.9L394.3,103.9L396.1,103.1L398.0,102.4L400.0,102.0L402.0,101.7L403.9,101.7L405.7,101.9L407.2,102.3L408.5,102.9L409.4,103.7L410.0,104.6L410.2,105.7L410.0,106.8L409.4,107.9L408.5,109.1Z"/>
<clipPath id="c20"><path d="M410.7,137.0L411.6,137.5L412.3,138.1L412.8,138.8L412.9,139.6L412.8,140.5L412.3,141.4L411.5,142.3L410.5,143.1L409.3,143.8L408.0,144.5L406.5,145.0L404.9,145.3L403.4,145.5L401.9,145.5L400.5,145.3L399.3,145.0L391.3,142.0L390.4,141.5L389.7,140.9L389.2,140.2L389.1,139.4L389.2,138.5L389.7,137.6L390.5,136.7L391.5,135.9L392.7,135.2L394.0,134.5L395.5,134.0L397.1,133.7L398.6,133.5L400.1,133.5L401.5,133.7L402.7,134.0Z"/></clipPath><g clip-path="url(#c20)"><path d="M410.7,137.0L411.6,137.5L412.3,138.1L412.8,138.8L412.9,139.6L412.8,140.5L412.3,141.4L411.5,142.3L410.5,143.1L409.3,143.8L408.0,144.5L406.5,145.0L404.9,145.3L403.4,145.5L401.9,145.5L400.5,145.3L399.3,145.0L391.3,142.0L390.4,141.5L389.7,140.9L389.2,140.2L389.1,139.4L389.2,138.5L389.7,137.6L390.5,136.7L391.5,135.9L392.7,135.2L394.0,134.5L395.5,134.0L397.1,133.7L398.6,133.5L400.1,133.5L401.5,133.7L402.7,134.0Z" transform="translate(0,7.2)"/><path d="M402.7,134.0v7.2"/><path d="M391.3,142.0v7.2"/><path d="M410.7,137.0v7.2"/><path d="M399.3,145.0v7.2"/></g>
<path d="M410.7,137.0L411.6,137.5L412.3,138.1L412.8,138.8L412.9,139.6L412.8,140.5L412.3,141.4L411.5,142.3L410.5,143.1L409.3,143.8L408.0,144.5L406.5,145.0L404.9,145.3L403.4,145.5L401.9,145.5L400.5,145.3L399.3,145.0L391.3,142.0L390.4,141.5L389.7,140.9L389.2,140.2L389.1,139.4L389.2,138.5L389.7,137.6L390.5,136.7L391.5,135.9L392.7,135.2L394.0,134.5L395.5,134.0L397.1,133.7L398.6,133.5L400.1,133.5L401.5,133.7L402.7,134.0Z"/>
<clipPath id="c21"><path d="M378.3,161.1L378.9,161.9L379.3,162.7L379.2,163.6L378.9,164.5L378.3,165.5L377.3,166.4L376.1,167.2L374.7,168.0L373.2,168.6L371.6,169.0L369.9,169.3L368.3,169.4L366.7,169.4L365.4,169.1L364.2,168.7L363.3,168.1L356.3,162.1L355.7,161.3L355.3,160.5L355.4,159.6L355.7,158.7L356.3,157.7L357.3,156.8L358.5,156.0L359.9,155.2L361.4,154.6L363.0,154.2L364.7,153.9L366.3,153.8L367.9,153.8L369.2,154.1L370.4,154.5L371.3,155.1Z"/></clipPath><g clip-path="url(#c21)"><path d="M378.3,161.1L378.9,161.9L379.3,162.7L379.2,163.6L378.9,164.5L378.3,165.5L377.3,166.4L376.1,167.2L374.7,168.0L373.2,168.6L371.6,169.0L369.9,169.3L368.3,169.4L366.7,169.4L365.4,169.1L364.2,168.7L363.3,168.1L356.3,162.1L355.7,161.3L355.3,160.5L355.4,159.6L355.7,158.7L356.3,157.7L357.3,156.8L358.5,156.0L359.9,155.2L361.4,154.6L363.0,154.2L364.7,153.9L366.3,153.8L367.9,153.8L369.2,154.1L370.4,154.5L371.3,155.1Z" transform="translate(0,7.2)"/><path d="M371.3,155.1v7.2"/><path d="M356.3,162.1v7.2"/><path d="M378.3,161.1v7.2"/><path d="M363.3,168.1v7.2"/></g>
<path d="M378.3,161.1L378.9,161.9L379.3,162.7L379.2,163.6L378.9,164.5L378.3,165.5L377.3,166.4L376.1,167.2L374.7,168.0L373.2,168.6L371.6,169.0L369.9,169.3L368.3,169.4L366.7,169.4L365.4,169.1L364.2,168.7L363.3,168.1L356.3,162.1L355.7,161.3L355.3,160.5L355.4,159.6L355.7,158.7L356.3,157.7L357.3,156.8L358.5,156.0L359.9,155.2L361.4,154.6L363.0,154.2L364.7,153.9L366.3,153.8L367.9,153.8L369.2,154.1L370.4,154.5L371.3,155.1Z"/>
<clipPath id="c22"><path d="M428.0,173.3L426.6,174.2L425.1,174.9L423.4,175.5L421.6,175.9L419.8,176.1L418.1,176.2L416.6,176.0L415.2,175.6L414.1,175.1L413.2,174.4L412.7,173.5L412.5,172.6L412.7,171.6L413.2,170.6L414.1,169.6L415.2,168.7L416.6,167.8L418.1,167.1L419.8,166.5L421.6,166.1L423.4,165.9L425.1,165.8L426.6,166.0L428.0,166.4L429.1,166.9L430.0,167.6L430.5,168.5L430.7,169.4L430.5,170.4L430.0,171.4L429.1,172.4Z"/></clipPath><g clip-path="url(#c22)"><path d="M428.0,173.3L426.6,174.2L425.1,174.9L423.4,175.5L421.6,175.9L419.8,176.1L418.1,176.2L416.6,176.0L415.2,175.6L414.1,175.1L413.2,174.4L412.7,173.5L412.5,172.6L412.7,171.6L413.2,170.6L414.1,169.6L415.2,168.7L416.6,167.8L418.1,167.1L419.8,166.5L421.6,166.1L423.4,165.9L425.1,165.8L426.6,166.0L428.0,166.4L429.1,166.9L430.0,167.6L430.5,168.5L430.7,169.4L430.5,170.4L430.0,171.4L429.1,172.4Z" transform="translate(0,7.2)"/></g>
<path d="M428.0,173.3L426.6,174.2L425.1,174.9L423.4,175.5L421.6,175.9L419.8,176.1L418.1,176.2L416.6,176.0L415.2,175.6L414.1,175.1L413.2,174.4L412.7,173.5L412.5,172.6L412.7,171.6L413.2,170.6L414.1,169.6L415.2,168.7L416.6,167.8L418.1,167.1L419.8,166.5L421.6,166.1L423.4,165.9L425.1,165.8L426.6,166.0L428.0,166.4L429.1,166.9L430.0,167.6L430.5,168.5L430.7,169.4L430.5,170.4L430.0,171.4L429.1,172.4Z"/>
<clipPath id="c23"><path d="M460.4,128.4L461.0,129.1L461.3,129.9L461.2,130.8L460.9,131.8L460.2,132.7L459.3,133.6L458.1,134.5L456.7,135.2L455.1,135.8L453.5,136.3L451.8,136.5L450.2,136.6L448.7,136.6L447.3,136.3L446.1,135.8L445.2,135.2L436.7,127.7L436.1,127.0L435.8,126.2L435.9,125.3L436.2,124.3L436.9,123.4L437.8,122.5L439.0,121.6L440.4,120.9L442.0,120.3L443.6,119.8L445.3,119.6L446.9,119.5L448.4,119.5L449.8,119.8L451.0,120.3L451.9,120.9Z"/></clipPath><g clip-path="url(#c23)"><path d="M460.4,128.4L461.0,129.1L461.3,129.9L461.2,130.8L460.9,131.8L460.2,132.7L459.3,133.6L458.1,134.5L456.7,135.2L455.1,135.8L453.5,136.3L451.8,136.5L450.2,136.6L448.7,136.6L447.3,136.3L446.1,135.8L445.2,135.2L436.7,127.7L436.1,127.0L435.8,126.2L435.9,125.3L436.2,124.3L436.9,123.4L437.8,122.5L439.0,121.6L440.4,120.9L442.0,120.3L443.6,119.8L445.3,119.6L446.9,119.5L448.4,119.5L449.8,119.8L451.0,120.3L451.9,120.9Z" transform="translate(0,7.2)"/><path d="M451.9,120.9v7.2"/><path d="M436.7,127.7v7.2"/><path d="M460.4,128.4v7.2"/><path d="M445.2,135.2v7.2"/></g>
<path d="M460.4,128.4L461.0,129.1L461.3,129.9L461.2,130.8L460.9,131.8L460.2,132.7L459.3,133.6L458.1,134.5L456.7,135.2L455.1,135.8L453.5,136.3L451.8,136.5L450.2,136.6L448.7,136.6L447.3,136.3L446.1,135.8L445.2,135.2L436.7,127.7L436.1,127.0L435.8,126.2L435.9,125.3L436.2,124.3L436.9,123.4L437.8,122.5L439.0,121.6L440.4,120.9L442.0,120.3L443.6,119.8L445.3,119.6L446.9,119.5L448.4,119.5L449.8,119.8L451.0,120.3L451.9,120.9Z"/>
<path d="M327.1,105.4C327.1,104.4 327.5,102.7 329.3,101.6C331.1,100.5 336.7,98.5 339.5,97.4C342.3,96.3 346.3,94.7 349.3,94.1C352.3,93.5 357.1,93.5 360.4,93.4C363.7,93.3 369.8,93.4 372.5,93.5C375.2,93.6 378.0,93.9 379.5,94.4C381.0,94.9 382.5,96.2 382.8,97.0C383.1,97.8 382.2,99.5 381.5,100.2C380.8,100.9 378.5,101.7 377.8,102.2C377.1,102.7 376.6,103.3 376.9,103.6C377.2,103.9 379.3,104.0 380.2,104.6C381.1,105.2 382.8,106.7 383.2,107.6C383.6,108.5 383.7,110.1 383.3,111.0C382.9,111.9 381.3,113.5 380.3,114.0C379.3,114.5 377.6,114.5 376.2,114.6C374.8,114.7 372.7,114.9 370.5,114.6C368.3,114.3 363.3,113.5 360.4,112.8C357.5,112.1 352.7,110.5 350.3,109.7C347.9,108.9 345.4,107.5 343.2,107.5C341.0,107.5 337.0,109.4 335.0,109.6C333.0,109.8 330.4,109.4 329.3,108.8C328.2,108.2 327.1,106.4 327.1,105.4Z"/>
<path d="M329.6,108.6C331.2,107.9 336.2,105.8 339.5,104.6C342.8,103.4 345.8,102.0 349.3,101.3C352.8,100.6 356.5,100.7 360.4,100.6C364.3,100.5 369.5,100.5 372.5,100.7C375.5,100.9 377.5,101.7 378.5,101.9"/>
<path d="M329.6,101.5 v7.2"/>
<path d="M349.3,94.1 v7.2"/>
<path d="M360.4,93.4 v7.2"/>
<path d="M361.4,93.4 v7.2"/>
<path d="M372.5,93.5 v7.2"/>
<path d="M376.6,102.6 Q373.2,106 374,110.6 Q374.8,113.2 376.6,114.5"/>
<path d="M377.8,105 L378.3,113.6"/>
<clipPath id="c24"><path d="M352.7,155.4L351.7,156.2L350.4,157.0L349.0,157.6L347.5,158.1L345.9,158.4L344.3,158.6L342.8,158.6L341.5,158.4L340.3,158.0L339.3,157.5L338.6,156.9L338.2,156.1L338.1,155.3L338.4,154.4L338.9,153.5L339.7,152.6L350.1,142.9L350.2,142.8L350.9,141.9L352.0,141.0L353.3,140.2L354.8,139.5L356.3,139.0L358.0,138.6L359.7,138.4L361.2,138.4L362.7,138.5L364.0,138.9L365.1,139.4L365.8,140.0L366.3,140.8L366.4,141.1L379.9,142.9L380.9,143.1L381.8,143.4L382.5,143.9L383.0,144.5L383.2,145.2L383.2,145.9L382.9,146.6L382.4,147.3L381.6,148.1L380.7,148.7L379.6,149.3L378.4,149.8L377.1,150.1L375.8,150.3L374.5,150.4L373.3,150.3L360.1,148.6Z"/></clipPath><g clip-path="url(#c24)"><path d="M352.7,155.4L351.7,156.2L350.4,157.0L349.0,157.6L347.5,158.1L345.9,158.4L344.3,158.6L342.8,158.6L341.5,158.4L340.3,158.0L339.3,157.5L338.6,156.9L338.2,156.1L338.1,155.3L338.4,154.4L338.9,153.5L339.7,152.6L350.1,142.9L350.2,142.8L350.9,141.9L352.0,141.0L353.3,140.2L354.8,139.5L356.3,139.0L358.0,138.6L359.7,138.4L361.2,138.4L362.7,138.5L364.0,138.9L365.1,139.4L365.8,140.0L366.3,140.8L366.4,141.1L379.9,142.9L380.9,143.1L381.8,143.4L382.5,143.9L383.0,144.5L383.2,145.2L383.2,145.9L382.9,146.6L382.4,147.3L381.6,148.1L380.7,148.7L379.6,149.3L378.4,149.8L377.1,150.1L375.8,150.3L374.5,150.4L373.3,150.3L360.1,148.6Z" transform="translate(0,7.2)"/><path d="M349.0,149.3v7.2"/><path d="M366.0,141.5v7.2"/><path d="M368.8,142.2v7.2"/><path d="M373.0,143.0v7.2"/></g>
<path d="M352.7,155.4L351.7,156.2L350.4,157.0L349.0,157.6L347.5,158.1L345.9,158.4L344.3,158.6L342.8,158.6L341.5,158.4L340.3,158.0L339.3,157.5L338.6,156.9L338.2,156.1L338.1,155.3L338.4,154.4L338.9,153.5L339.7,152.6L350.1,142.9L350.2,142.8L350.9,141.9L352.0,141.0L353.3,140.2L354.8,139.5L356.3,139.0L358.0,138.6L359.7,138.4L361.2,138.4L362.7,138.5L364.0,138.9L365.1,139.4L365.8,140.0L366.3,140.8L366.4,141.1L379.9,142.9L380.9,143.1L381.8,143.4L382.5,143.9L383.0,144.5L383.2,145.2L383.2,145.9L382.9,146.6L382.4,147.3L381.6,148.1L380.7,148.7L379.6,149.3L378.4,149.8L377.1,150.1L375.8,150.3L374.5,150.4L373.3,150.3L360.1,148.6Z"/>
<clipPath id="c25"><path d="M569.3,163.2L570.9,163.4L572.3,163.8L573.5,164.3L574.3,165.0L574.9,165.9L575.0,166.9L574.9,167.9L574.3,168.9L573.4,169.9L572.3,170.9L570.9,171.8L569.3,172.6L567.5,173.1L565.7,173.6L563.9,173.8L562.1,173.8L547.7,173.1L546.1,172.9L544.7,172.5L543.5,172.0L542.7,171.3L542.1,170.4L542.0,169.4L542.1,168.4L542.7,167.4L543.6,166.4L544.7,165.4L546.1,164.5L547.7,163.7L549.5,163.2L551.3,162.7L553.1,162.5L554.9,162.5Z"/></clipPath><g clip-path="url(#c25)"><path d="M569.3,163.2L570.9,163.4L572.3,163.8L573.5,164.3L574.3,165.0L574.9,165.9L575.0,166.9L574.9,167.9L574.3,168.9L573.4,169.9L572.3,170.9L570.9,171.8L569.3,172.6L567.5,173.1L565.7,173.6L563.9,173.8L562.1,173.8L547.7,173.1L546.1,172.9L544.7,172.5L543.5,172.0L542.7,171.3L542.1,170.4L542.0,169.4L542.1,168.4L542.7,167.4L543.6,166.4L544.7,165.4L546.1,164.5L547.7,163.7L549.5,163.2L551.3,162.7L553.1,162.5L554.9,162.5Z" transform="translate(0,7.2)"/><path d="M554.9,162.5v7.2"/><path d="M547.7,173.1v7.2"/><path d="M569.3,163.2v7.2"/><path d="M562.1,173.8v7.2"/></g>
<path d="M569.3,163.2L570.9,163.4L572.3,163.8L573.5,164.3L574.3,165.0L574.9,165.9L575.0,166.9L574.9,167.9L574.3,168.9L573.4,169.9L572.3,170.9L570.9,171.8L569.3,172.6L567.5,173.1L565.7,173.6L563.9,173.8L562.1,173.8L547.7,173.1L546.1,172.9L544.7,172.5L543.5,172.0L542.7,171.3L542.1,170.4L542.0,169.4L542.1,168.4L542.7,167.4L543.6,166.4L544.7,165.4L546.1,164.5L547.7,163.7L549.5,163.2L551.3,162.7L553.1,162.5L554.9,162.5Z"/>
<clipPath id="c26"><path d="M494.3,197.4L492.9,198.2L491.4,199.0L489.7,199.5L488.0,199.9L486.3,200.1L484.6,200.2L483.1,200.0L481.7,199.6L480.6,199.1L479.8,198.4L479.3,197.6L479.1,196.7L479.3,195.7L479.8,194.7L480.6,193.7L481.7,192.8L483.1,192.0L484.6,191.2L486.3,190.7L488.0,190.3L489.7,190.1L491.4,190.0L492.9,190.2L494.3,190.6L495.4,191.1L496.2,191.8L496.7,192.6L496.9,193.5L496.7,194.5L496.2,195.5L495.4,196.5Z"/></clipPath><g clip-path="url(#c26)"><path d="M494.3,197.4L492.9,198.2L491.4,199.0L489.7,199.5L488.0,199.9L486.3,200.1L484.6,200.2L483.1,200.0L481.7,199.6L480.6,199.1L479.8,198.4L479.3,197.6L479.1,196.7L479.3,195.7L479.8,194.7L480.6,193.7L481.7,192.8L483.1,192.0L484.6,191.2L486.3,190.7L488.0,190.3L489.7,190.1L491.4,190.0L492.9,190.2L494.3,190.6L495.4,191.1L496.2,191.8L496.7,192.6L496.9,193.5L496.7,194.5L496.2,195.5L495.4,196.5Z" transform="translate(0,7.2)"/></g>
<path d="M494.3,197.4L492.9,198.2L491.4,199.0L489.7,199.5L488.0,199.9L486.3,200.1L484.6,200.2L483.1,200.0L481.7,199.6L480.6,199.1L479.8,198.4L479.3,197.6L479.1,196.7L479.3,195.7L479.8,194.7L480.6,193.7L481.7,192.8L483.1,192.0L484.6,191.2L486.3,190.7L488.0,190.3L489.7,190.1L491.4,190.0L492.9,190.2L494.3,190.6L495.4,191.1L496.2,191.8L496.7,192.6L496.9,193.5L496.7,194.5L496.2,195.5L495.4,196.5Z"/>
<clipPath id="c27"><path d="M562.7,192.9L563.6,193.5L564.2,194.2L564.5,195.0L564.5,195.8L564.1,196.8L563.5,197.7L562.6,198.5L561.4,199.4L560.1,200.1L558.6,200.7L557.0,201.1L555.4,201.4L553.8,201.5L552.3,201.4L551.0,201.1L549.9,200.7L543.1,197.3L542.2,196.7L541.6,196.0L541.3,195.2L541.3,194.4L541.7,193.4L542.3,192.5L543.2,191.7L544.4,190.8L545.7,190.1L547.2,189.5L548.8,189.1L550.4,188.8L552.0,188.7L553.5,188.8L554.8,189.1L555.9,189.5Z"/></clipPath><g clip-path="url(#c27)"><path d="M562.7,192.9L563.6,193.5L564.2,194.2L564.5,195.0L564.5,195.8L564.1,196.8L563.5,197.7L562.6,198.5L561.4,199.4L560.1,200.1L558.6,200.7L557.0,201.1L555.4,201.4L553.8,201.5L552.3,201.4L551.0,201.1L549.9,200.7L543.1,197.3L542.2,196.7L541.6,196.0L541.3,195.2L541.3,194.4L541.7,193.4L542.3,192.5L543.2,191.7L544.4,190.8L545.7,190.1L547.2,189.5L548.8,189.1L550.4,188.8L552.0,188.7L553.5,188.8L554.8,189.1L555.9,189.5Z" transform="translate(0,7.2)"/><path d="M555.9,189.5v7.2"/><path d="M543.1,197.3v7.2"/><path d="M562.7,192.9v7.2"/><path d="M549.9,200.7v7.2"/></g>
<path d="M562.7,192.9L563.6,193.5L564.2,194.2L564.5,195.0L564.5,195.8L564.1,196.8L563.5,197.7L562.6,198.5L561.4,199.4L560.1,200.1L558.6,200.7L557.0,201.1L555.4,201.4L553.8,201.5L552.3,201.4L551.0,201.1L549.9,200.7L543.1,197.3L542.2,196.7L541.6,196.0L541.3,195.2L541.3,194.4L541.7,193.4L542.3,192.5L543.2,191.7L544.4,190.8L545.7,190.1L547.2,189.5L548.8,189.1L550.4,188.8L552.0,188.7L553.5,188.8L554.8,189.1L555.9,189.5Z"/>
<clipPath id="c28"><path d="M581.3,207.9L579.9,208.7L578.4,209.5L576.7,210.0L575.0,210.4L573.3,210.6L571.6,210.7L570.1,210.5L568.7,210.1L567.6,209.6L566.8,208.9L566.3,208.1L566.1,207.2L566.3,206.2L566.8,205.2L567.6,204.2L568.7,203.3L570.1,202.5L571.6,201.7L573.3,201.2L575.0,200.8L576.7,200.6L578.4,200.5L579.9,200.7L581.3,201.1L582.4,201.6L583.2,202.3L583.7,203.1L583.9,204.0L583.7,205.0L583.2,206.0L582.4,207.0Z"/></clipPath><g clip-path="url(#c28)"><path d="M581.3,207.9L579.9,208.7L578.4,209.5L576.7,210.0L575.0,210.4L573.3,210.6L571.6,210.7L570.1,210.5L568.7,210.1L567.6,209.6L566.8,208.9L566.3,208.1L566.1,207.2L566.3,206.2L566.8,205.2L567.6,204.2L568.7,203.3L570.1,202.5L571.6,201.7L573.3,201.2L575.0,200.8L576.7,200.6L578.4,200.5L579.9,200.7L581.3,201.1L582.4,201.6L583.2,202.3L583.7,203.1L583.9,204.0L583.7,205.0L583.2,206.0L582.4,207.0Z" transform="translate(0,7.2)"/></g>
<path d="M581.3,207.9L579.9,208.7L578.4,209.5L576.7,210.0L575.0,210.4L573.3,210.6L571.6,210.7L570.1,210.5L568.7,210.1L567.6,209.6L566.8,208.9L566.3,208.1L566.1,207.2L566.3,206.2L566.8,205.2L567.6,204.2L568.7,203.3L570.1,202.5L571.6,201.7L573.3,201.2L575.0,200.8L576.7,200.6L578.4,200.5L579.9,200.7L581.3,201.1L582.4,201.6L583.2,202.3L583.7,203.1L583.9,204.0L583.7,205.0L583.2,206.0L582.4,207.0Z"/>
<clipPath id="c29"><path d="M619.5,188.1L617.9,189.1L616.0,190.0L614.0,190.6L611.9,191.1L609.8,191.4L607.8,191.4L605.9,191.2L604.3,190.8L603.0,190.1L602.0,189.3L601.4,188.3L601.2,187.2L601.4,186.0L602.0,184.8L603.0,183.6L604.3,182.5L605.9,181.5L607.8,180.6L609.8,180.0L611.9,179.5L614.0,179.2L616.0,179.2L617.9,179.4L619.5,179.8L620.8,180.5L621.8,181.3L622.4,182.3L622.6,183.4L622.4,184.6L621.8,185.8L620.8,187.0Z"/></clipPath><g clip-path="url(#c29)"><path d="M619.5,188.1L617.9,189.1L616.0,190.0L614.0,190.6L611.9,191.1L609.8,191.4L607.8,191.4L605.9,191.2L604.3,190.8L603.0,190.1L602.0,189.3L601.4,188.3L601.2,187.2L601.4,186.0L602.0,184.8L603.0,183.6L604.3,182.5L605.9,181.5L607.8,180.6L609.8,180.0L611.9,179.5L614.0,179.2L616.0,179.2L617.9,179.4L619.5,179.8L620.8,180.5L621.8,181.3L622.4,182.3L622.6,183.4L622.4,184.6L621.8,185.8L620.8,187.0Z" transform="translate(0,7.2)"/></g>
<path d="M619.5,188.1L617.9,189.1L616.0,190.0L614.0,190.6L611.9,191.1L609.8,191.4L607.8,191.4L605.9,191.2L604.3,190.8L603.0,190.1L602.0,189.3L601.4,188.3L601.2,187.2L601.4,186.0L602.0,184.8L603.0,183.6L604.3,182.5L605.9,181.5L607.8,180.6L609.8,180.0L611.9,179.5L614.0,179.2L616.0,179.2L617.9,179.4L619.5,179.8L620.8,180.5L621.8,181.3L622.4,182.3L622.6,183.4L622.4,184.6L621.8,185.8L620.8,187.0Z"/>
<clipPath id="c30"><path d="M529.7,212.5L531.5,212.5L533.1,212.8L534.6,213.2L535.7,213.8L536.5,214.6L537.0,215.5L537.1,216.5L536.9,217.6L536.2,218.6L535.3,219.7L534.0,220.7L532.5,221.6L530.8,222.3L529.0,222.9L527.1,223.3L525.3,223.5L514.8,224.0L513.0,224.0L511.4,223.7L509.9,223.3L508.8,222.7L508.0,221.9L507.5,221.0L507.4,220.0L507.6,218.9L508.3,217.9L509.2,216.8L510.5,215.8L512.0,214.9L513.7,214.2L515.5,213.6L517.4,213.2L519.2,213.0Z"/></clipPath><g clip-path="url(#c30)"><path d="M529.7,212.5L531.5,212.5L533.1,212.8L534.6,213.2L535.7,213.8L536.5,214.6L537.0,215.5L537.1,216.5L536.9,217.6L536.2,218.6L535.3,219.7L534.0,220.7L532.5,221.6L530.8,222.3L529.0,222.9L527.1,223.3L525.3,223.5L514.8,224.0L513.0,224.0L511.4,223.7L509.9,223.3L508.8,222.7L508.0,221.9L507.5,221.0L507.4,220.0L507.6,218.9L508.3,217.9L509.2,216.8L510.5,215.8L512.0,214.9L513.7,214.2L515.5,213.6L517.4,213.2L519.2,213.0Z" transform="translate(0,7.2)"/><path d="M519.2,213.0v7.2"/><path d="M514.8,224.0v7.2"/><path d="M529.7,212.5v7.2"/><path d="M525.3,223.5v7.2"/></g>
<path d="M529.7,212.5L531.5,212.5L533.1,212.8L534.6,213.2L535.7,213.8L536.5,214.6L537.0,215.5L537.1,216.5L536.9,217.6L536.2,218.6L535.3,219.7L534.0,220.7L532.5,221.6L530.8,222.3L529.0,222.9L527.1,223.3L525.3,223.5L514.8,224.0L513.0,224.0L511.4,223.7L509.9,223.3L508.8,222.7L508.0,221.9L507.5,221.0L507.4,220.0L507.6,218.9L508.3,217.9L509.2,216.8L510.5,215.8L512.0,214.9L513.7,214.2L515.5,213.6L517.4,213.2L519.2,213.0Z"/>
<clipPath id="c31"><path d="M488.1,238.0L489.9,237.7L491.5,237.7L493.1,237.9L494.4,238.3L495.5,238.8L496.3,239.5L496.8,240.3L497.0,241.2L496.8,242.2L496.3,243.2L495.5,244.2L494.4,245.1L493.0,246.0L491.5,246.7L489.8,247.2L488.1,247.6L476.7,249.6L474.9,249.9L473.3,249.9L471.7,249.7L470.4,249.3L469.3,248.8L468.5,248.1L468.0,247.3L467.8,246.4L468.0,245.4L468.5,244.4L469.3,243.4L470.4,242.5L471.8,241.6L473.3,240.9L475.0,240.4L476.7,240.0Z"/></clipPath><g clip-path="url(#c31)"><path d="M488.1,238.0L489.9,237.7L491.5,237.7L493.1,237.9L494.4,238.3L495.5,238.8L496.3,239.5L496.8,240.3L497.0,241.2L496.8,242.2L496.3,243.2L495.5,244.2L494.4,245.1L493.0,246.0L491.5,246.7L489.8,247.2L488.1,247.6L476.7,249.6L474.9,249.9L473.3,249.9L471.7,249.7L470.4,249.3L469.3,248.8L468.5,248.1L468.0,247.3L467.8,246.4L468.0,245.4L468.5,244.4L469.3,243.4L470.4,242.5L471.8,241.6L473.3,240.9L475.0,240.4L476.7,240.0Z" transform="translate(0,7.2)"/><path d="M476.7,240.0v7.2"/><path d="M476.7,249.6v7.2"/><path d="M488.1,238.0v7.2"/><path d="M488.1,247.6v7.2"/></g>
<path d="M488.1,238.0L489.9,237.7L491.5,237.7L493.1,237.9L494.4,238.3L495.5,238.8L496.3,239.5L496.8,240.3L497.0,241.2L496.8,242.2L496.3,243.2L495.5,244.2L494.4,245.1L493.0,246.0L491.5,246.7L489.8,247.2L488.1,247.6L476.7,249.6L474.9,249.9L473.3,249.9L471.7,249.7L470.4,249.3L469.3,248.8L468.5,248.1L468.0,247.3L467.8,246.4L468.0,245.4L468.5,244.4L469.3,243.4L470.4,242.5L471.8,241.6L473.3,240.9L475.0,240.4L476.7,240.0Z"/>
<clipPath id="c32"><path d="M493.6,274.9L492.2,275.7L490.7,276.5L489.0,277.0L487.3,277.4L485.6,277.6L483.9,277.7L482.4,277.5L481.0,277.1L479.9,276.6L479.1,275.9L478.6,275.1L478.4,274.2L478.6,273.2L479.1,272.2L479.9,271.2L481.0,270.3L482.4,269.5L483.9,268.7L485.6,268.2L487.3,267.8L489.0,267.6L490.7,267.5L492.2,267.7L493.6,268.1L494.7,268.6L495.5,269.3L496.0,270.1L496.2,271.0L496.0,272.0L495.5,273.0L494.7,274.0Z"/></clipPath><g clip-path="url(#c32)"><path d="M493.6,274.9L492.2,275.7L490.7,276.5L489.0,277.0L487.3,277.4L485.6,277.6L483.9,277.7L482.4,277.5L481.0,277.1L479.9,276.6L479.1,275.9L478.6,275.1L478.4,274.2L478.6,273.2L479.1,272.2L479.9,271.2L481.0,270.3L482.4,269.5L483.9,268.7L485.6,268.2L487.3,267.8L489.0,267.6L490.7,267.5L492.2,267.7L493.6,268.1L494.7,268.6L495.5,269.3L496.0,270.1L496.2,271.0L496.0,272.0L495.5,273.0L494.7,274.0Z" transform="translate(0,7.2)"/></g>
<path d="M493.6,274.9L492.2,275.7L490.7,276.5L489.0,277.0L487.3,277.4L485.6,277.6L483.9,277.7L482.4,277.5L481.0,277.1L479.9,276.6L479.1,275.9L478.6,275.1L478.4,274.2L478.6,273.2L479.1,272.2L479.9,271.2L481.0,270.3L482.4,269.5L483.9,268.7L485.6,268.2L487.3,267.8L489.0,267.6L490.7,267.5L492.2,267.7L493.6,268.1L494.7,268.6L495.5,269.3L496.0,270.1L496.2,271.0L496.0,272.0L495.5,273.0L494.7,274.0Z"/>
<clipPath id="c33"><path d="M520.1,280.2L518.8,281.0L517.3,281.7L515.6,282.3L513.9,282.7L512.2,282.9L510.5,282.9L509.0,282.7L507.7,282.4L506.6,281.8L505.8,281.2L505.3,280.4L505.1,279.5L505.3,278.5L505.8,277.5L506.6,276.6L507.7,275.6L509.0,274.8L510.5,274.1L512.2,273.5L513.9,273.1L515.6,272.9L517.3,272.9L518.8,273.1L520.1,273.4L521.2,274.0L522.0,274.6L522.5,275.4L522.7,276.3L522.5,277.3L522.0,278.3L521.2,279.2Z"/></clipPath><g clip-path="url(#c33)"><path d="M520.1,280.2L518.8,281.0L517.3,281.7L515.6,282.3L513.9,282.7L512.2,282.9L510.5,282.9L509.0,282.7L507.7,282.4L506.6,281.8L505.8,281.2L505.3,280.4L505.1,279.5L505.3,278.5L505.8,277.5L506.6,276.6L507.7,275.6L509.0,274.8L510.5,274.1L512.2,273.5L513.9,273.1L515.6,272.9L517.3,272.9L518.8,273.1L520.1,273.4L521.2,274.0L522.0,274.6L522.5,275.4L522.7,276.3L522.5,277.3L522.0,278.3L521.2,279.2Z" transform="translate(0,7.2)"/></g>
<path d="M520.1,280.2L518.8,281.0L517.3,281.7L515.6,282.3L513.9,282.7L512.2,282.9L510.5,282.9L509.0,282.7L507.7,282.4L506.6,281.8L505.8,281.2L505.3,280.4L505.1,279.5L505.3,278.5L505.8,277.5L506.6,276.6L507.7,275.6L509.0,274.8L510.5,274.1L512.2,273.5L513.9,273.1L515.6,272.9L517.3,272.9L518.8,273.1L520.1,273.4L521.2,274.0L522.0,274.6L522.5,275.4L522.7,276.3L522.5,277.3L522.0,278.3L521.2,279.2Z"/>
<clipPath id="c34"><path d="M491.2,294.4L491.8,295.0L492.2,295.7L492.3,296.5L492.1,297.3L491.6,298.2L490.9,299.0L489.9,299.8L488.7,300.5L487.4,301.0L486.0,301.5L484.5,301.8L483.1,302.0L481.7,302.0L480.4,301.8L479.3,301.4L458.5,293.1L457.9,293.1L456.4,292.9L455.0,292.5L453.9,292.0L453.1,291.3L452.6,290.5L452.4,289.6L452.6,288.6L453.1,287.6L453.9,286.6L455.0,285.7L456.4,284.9L457.9,284.1L459.6,283.6L461.3,283.2L463.0,283.0L464.7,282.9L466.2,283.1L467.6,283.5L468.7,284.0L469.5,284.7L470.0,285.5L470.1,285.8L490.3,294.0Z"/></clipPath><g clip-path="url(#c34)"><path d="M491.2,294.4L491.8,295.0L492.2,295.7L492.3,296.5L492.1,297.3L491.6,298.2L490.9,299.0L489.9,299.8L488.7,300.5L487.4,301.0L486.0,301.5L484.5,301.8L483.1,302.0L481.7,302.0L480.4,301.8L479.3,301.4L458.5,293.1L457.9,293.1L456.4,292.9L455.0,292.5L453.9,292.0L453.1,291.3L452.6,290.5L452.4,289.6L452.6,288.6L453.1,287.6L453.9,286.6L455.0,285.7L456.4,284.9L457.9,284.1L459.6,283.6L461.3,283.2L463.0,283.0L464.7,282.9L466.2,283.1L467.6,283.5L468.7,284.0L469.5,284.7L470.0,285.5L470.1,285.8L490.3,294.0Z" transform="translate(0,7.2)"/><path d="M490.3,294.0v7.2"/><path d="M479.3,301.4v7.2"/></g>
<path d="M491.2,294.4L491.8,295.0L492.2,295.7L492.3,296.5L492.1,297.3L491.6,298.2L490.9,299.0L489.9,299.8L488.7,300.5L487.4,301.0L486.0,301.5L484.5,301.8L483.1,302.0L481.7,302.0L480.4,301.8L479.3,301.4L458.5,293.1L457.9,293.1L456.4,292.9L455.0,292.5L453.9,292.0L453.1,291.3L452.6,290.5L452.4,289.6L452.6,288.6L453.1,287.6L453.9,286.6L455.0,285.7L456.4,284.9L457.9,284.1L459.6,283.6L461.3,283.2L463.0,283.0L464.7,282.9L466.2,283.1L467.6,283.5L468.7,284.0L469.5,284.7L470.0,285.5L470.1,285.8L490.3,294.0Z"/>
<clipPath id="c35"><path d="M470.0,313.6L468.7,314.4L467.2,315.1L465.6,315.7L463.9,316.1L462.2,316.3L460.6,316.3L459.1,316.1L457.8,315.8L456.7,315.3L455.9,314.6L455.4,313.8L455.3,312.9L455.4,312.0L455.9,311.0L456.7,310.1L457.8,309.2L459.1,308.4L460.6,307.7L462.2,307.1L463.9,306.7L465.6,306.5L467.2,306.5L468.7,306.7L470.0,307.0L471.1,307.5L471.9,308.2L472.4,309.0L472.5,309.9L472.4,310.8L471.9,311.8L471.1,312.7Z"/></clipPath><g clip-path="url(#c35)"><path d="M470.0,313.6L468.7,314.4L467.2,315.1L465.6,315.7L463.9,316.1L462.2,316.3L460.6,316.3L459.1,316.1L457.8,315.8L456.7,315.3L455.9,314.6L455.4,313.8L455.3,312.9L455.4,312.0L455.9,311.0L456.7,310.1L457.8,309.2L459.1,308.4L460.6,307.7L462.2,307.1L463.9,306.7L465.6,306.5L467.2,306.5L468.7,306.7L470.0,307.0L471.1,307.5L471.9,308.2L472.4,309.0L472.5,309.9L472.4,310.8L471.9,311.8L471.1,312.7Z" transform="translate(0,7.2)"/></g>
<path d="M470.0,313.6L468.7,314.4L467.2,315.1L465.6,315.7L463.9,316.1L462.2,316.3L460.6,316.3L459.1,316.1L457.8,315.8L456.7,315.3L455.9,314.6L455.4,313.8L455.3,312.9L455.4,312.0L455.9,311.0L456.7,310.1L457.8,309.2L459.1,308.4L460.6,307.7L462.2,307.1L463.9,306.7L465.6,306.5L467.2,306.5L468.7,306.7L470.0,307.0L471.1,307.5L471.9,308.2L472.4,309.0L472.5,309.9L472.4,310.8L471.9,311.8L471.1,312.7Z"/>
<clipPath id="c36"><path d="M495.7,312.2L497.5,312.0L499.2,311.9L500.7,312.1L502.1,312.4L503.2,312.9L504.1,313.6L504.6,314.4L504.8,315.3L504.7,316.3L504.2,317.3L503.4,318.3L502.3,319.2L501.0,320.1L499.5,320.8L497.8,321.4L496.1,321.8L480.1,324.8L478.3,325.0L476.6,325.1L475.1,324.9L473.7,324.6L472.6,324.1L471.7,323.4L471.2,322.6L471.0,321.7L471.1,320.7L471.6,319.7L472.4,318.7L473.5,317.8L474.8,316.9L476.3,316.2L478.0,315.6L479.7,315.2Z"/></clipPath><g clip-path="url(#c36)"><path d="M495.7,312.2L497.5,312.0L499.2,311.9L500.7,312.1L502.1,312.4L503.2,312.9L504.1,313.6L504.6,314.4L504.8,315.3L504.7,316.3L504.2,317.3L503.4,318.3L502.3,319.2L501.0,320.1L499.5,320.8L497.8,321.4L496.1,321.8L480.1,324.8L478.3,325.0L476.6,325.1L475.1,324.9L473.7,324.6L472.6,324.1L471.7,323.4L471.2,322.6L471.0,321.7L471.1,320.7L471.6,319.7L472.4,318.7L473.5,317.8L474.8,316.9L476.3,316.2L478.0,315.6L479.7,315.2Z" transform="translate(0,7.2)"/><path d="M479.7,315.2v7.2"/><path d="M480.1,324.8v7.2"/><path d="M495.7,312.2v7.2"/><path d="M496.1,321.8v7.2"/></g>
<path d="M495.7,312.2L497.5,312.0L499.2,311.9L500.7,312.1L502.1,312.4L503.2,312.9L504.1,313.6L504.6,314.4L504.8,315.3L504.7,316.3L504.2,317.3L503.4,318.3L502.3,319.2L501.0,320.1L499.5,320.8L497.8,321.4L496.1,321.8L480.1,324.8L478.3,325.0L476.6,325.1L475.1,324.9L473.7,324.6L472.6,324.1L471.7,323.4L471.2,322.6L471.0,321.7L471.1,320.7L471.6,319.7L472.4,318.7L473.5,317.8L474.8,316.9L476.3,316.2L478.0,315.6L479.7,315.2Z"/>
<clipPath id="c37"><path d="M531.1,318.8L530.9,319.8L530.3,320.9L529.4,322.0L528.2,323.0L526.7,323.9L525.0,324.7L523.2,325.4L521.3,325.8L519.4,326.0L517.6,326.1L515.9,325.9L514.4,325.5L513.2,324.9L512.3,324.1L511.7,323.2L511.5,322.2L511.5,320.4L511.7,319.4L512.3,318.3L513.2,317.2L514.4,316.2L515.9,315.3L517.6,314.5L519.4,313.8L521.3,313.4L523.2,313.2L525.0,313.1L526.7,313.3L528.2,313.7L529.4,314.3L530.3,315.1L530.9,316.0L531.1,317.0Z"/></clipPath><g clip-path="url(#c37)"><path d="M531.1,318.8L530.9,319.8L530.3,320.9L529.4,322.0L528.2,323.0L526.7,323.9L525.0,324.7L523.2,325.4L521.3,325.8L519.4,326.0L517.6,326.1L515.9,325.9L514.4,325.5L513.2,324.9L512.3,324.1L511.7,323.2L511.5,322.2L511.5,320.4L511.7,319.4L512.3,318.3L513.2,317.2L514.4,316.2L515.9,315.3L517.6,314.5L519.4,313.8L521.3,313.4L523.2,313.2L525.0,313.1L526.7,313.3L528.2,313.7L529.4,314.3L530.3,315.1L530.9,316.0L531.1,317.0Z" transform="translate(0,7.2)"/><path d="M531.1,317.0v7.2"/><path d="M511.5,320.4v7.2"/><path d="M531.1,318.8v7.2"/><path d="M511.5,322.2v7.2"/></g>
<path d="M531.1,318.8L530.9,319.8L530.3,320.9L529.4,322.0L528.2,323.0L526.7,323.9L525.0,324.7L523.2,325.4L521.3,325.8L519.4,326.0L517.6,326.1L515.9,325.9L514.4,325.5L513.2,324.9L512.3,324.1L511.7,323.2L511.5,322.2L511.5,320.4L511.7,319.4L512.3,318.3L513.2,317.2L514.4,316.2L515.9,315.3L517.6,314.5L519.4,313.8L521.3,313.4L523.2,313.2L525.0,313.1L526.7,313.3L528.2,313.7L529.4,314.3L530.3,315.1L530.9,316.0L531.1,317.0Z"/>
<clipPath id="c38"><path d="M471.9,338.7L472.5,339.4L472.8,340.3L472.7,341.2L472.3,342.1L471.7,343.1L470.7,344.0L469.5,344.8L468.1,345.6L466.5,346.1L464.9,346.6L463.2,346.9L461.6,346.9L460.1,346.8L458.7,346.6L457.6,346.1L456.7,345.5L445.2,335.0L444.6,334.3L444.3,333.4L444.4,332.5L444.8,331.6L445.4,330.6L446.4,329.7L447.6,328.9L449.0,328.1L450.6,327.6L452.2,327.1L453.9,326.8L455.5,326.8L457.0,326.9L458.4,327.1L459.5,327.6L460.4,328.2Z"/></clipPath><g clip-path="url(#c38)"><path d="M471.9,338.7L472.5,339.4L472.8,340.3L472.7,341.2L472.3,342.1L471.7,343.1L470.7,344.0L469.5,344.8L468.1,345.6L466.5,346.1L464.9,346.6L463.2,346.9L461.6,346.9L460.1,346.8L458.7,346.6L457.6,346.1L456.7,345.5L445.2,335.0L444.6,334.3L444.3,333.4L444.4,332.5L444.8,331.6L445.4,330.6L446.4,329.7L447.6,328.9L449.0,328.1L450.6,327.6L452.2,327.1L453.9,326.8L455.5,326.8L457.0,326.9L458.4,327.1L459.5,327.6L460.4,328.2Z" transform="translate(0,7.2)"/><path d="M460.4,328.2v7.2"/><path d="M445.2,335.0v7.2"/><path d="M471.9,338.7v7.2"/><path d="M456.7,345.5v7.2"/></g>
<path d="M471.9,338.7L472.5,339.4L472.8,340.3L472.7,341.2L472.3,342.1L471.7,343.1L470.7,344.0L469.5,344.8L468.1,345.6L466.5,346.1L464.9,346.6L463.2,346.9L461.6,346.9L460.1,346.8L458.7,346.6L457.6,346.1L456.7,345.5L445.2,335.0L444.6,334.3L444.3,333.4L444.4,332.5L444.8,331.6L445.4,330.6L446.4,329.7L447.6,328.9L449.0,328.1L450.6,327.6L452.2,327.1L453.9,326.8L455.5,326.8L457.0,326.9L458.4,327.1L459.5,327.6L460.4,328.2Z"/>
<clipPath id="c39"><path d="M497.6,338.8L499.3,338.6L501.0,338.5L502.6,338.7L503.9,339.1L505.0,339.6L505.8,340.3L506.3,341.1L506.5,342.0L506.3,343.0L505.8,344.0L505.0,345.0L503.9,345.9L502.5,346.7L501.0,347.5L499.3,348.0L497.6,348.4L484.6,350.7L482.9,350.9L481.2,351.0L479.6,350.8L478.3,350.4L477.2,349.9L476.4,349.2L475.9,348.4L475.7,347.5L475.9,346.5L476.4,345.5L477.2,344.5L478.3,343.6L479.7,342.8L481.2,342.0L482.9,341.5L484.6,341.1Z"/></clipPath><g clip-path="url(#c39)"><path d="M497.6,338.8L499.3,338.6L501.0,338.5L502.6,338.7L503.9,339.1L505.0,339.6L505.8,340.3L506.3,341.1L506.5,342.0L506.3,343.0L505.8,344.0L505.0,345.0L503.9,345.9L502.5,346.7L501.0,347.5L499.3,348.0L497.6,348.4L484.6,350.7L482.9,350.9L481.2,351.0L479.6,350.8L478.3,350.4L477.2,349.9L476.4,349.2L475.9,348.4L475.7,347.5L475.9,346.5L476.4,345.5L477.2,344.5L478.3,343.6L479.7,342.8L481.2,342.0L482.9,341.5L484.6,341.1Z" transform="translate(0,7.2)"/><path d="M484.6,341.1v7.2"/><path d="M484.6,350.7v7.2"/><path d="M497.6,338.8v7.2"/><path d="M497.6,348.4v7.2"/></g>
<path d="M497.6,338.8L499.3,338.6L501.0,338.5L502.6,338.7L503.9,339.1L505.0,339.6L505.8,340.3L506.3,341.1L506.5,342.0L506.3,343.0L505.8,344.0L505.0,345.0L503.9,345.9L502.5,346.7L501.0,347.5L499.3,348.0L497.6,348.4L484.6,350.7L482.9,350.9L481.2,351.0L479.6,350.8L478.3,350.4L477.2,349.9L476.4,349.2L475.9,348.4L475.7,347.5L475.9,346.5L476.4,345.5L477.2,344.5L478.3,343.6L479.7,342.8L481.2,342.0L482.9,341.5L484.6,341.1Z"/>
<clipPath id="c40"><path d="M582.3,347.4L580.9,348.2L579.4,349.0L577.7,349.5L576.0,349.9L574.3,350.1L572.6,350.2L571.1,350.0L569.7,349.6L568.6,349.1L567.8,348.4L567.3,347.6L567.1,346.7L567.3,345.7L567.8,344.7L568.6,343.7L569.7,342.8L571.1,342.0L572.6,341.2L574.3,340.7L576.0,340.3L577.7,340.1L579.4,340.0L580.9,340.2L582.3,340.6L583.4,341.1L584.2,341.8L584.7,342.6L584.9,343.5L584.7,344.5L584.2,345.5L583.4,346.5Z"/></clipPath><g clip-path="url(#c40)"><path d="M582.3,347.4L580.9,348.2L579.4,349.0L577.7,349.5L576.0,349.9L574.3,350.1L572.6,350.2L571.1,350.0L569.7,349.6L568.6,349.1L567.8,348.4L567.3,347.6L567.1,346.7L567.3,345.7L567.8,344.7L568.6,343.7L569.7,342.8L571.1,342.0L572.6,341.2L574.3,340.7L576.0,340.3L577.7,340.1L579.4,340.0L580.9,340.2L582.3,340.6L583.4,341.1L584.2,341.8L584.7,342.6L584.9,343.5L584.7,344.5L584.2,345.5L583.4,346.5Z" transform="translate(0,7.2)"/></g>
<path d="M582.3,347.4L580.9,348.2L579.4,349.0L577.7,349.5L576.0,349.9L574.3,350.1L572.6,350.2L571.1,350.0L569.7,349.6L568.6,349.1L567.8,348.4L567.3,347.6L567.1,346.7L567.3,345.7L567.8,344.7L568.6,343.7L569.7,342.8L571.1,342.0L572.6,341.2L574.3,340.7L576.0,340.3L577.7,340.1L579.4,340.0L580.9,340.2L582.3,340.6L583.4,341.1L584.2,341.8L584.7,342.6L584.9,343.5L584.7,344.5L584.2,345.5L583.4,346.5Z"/>
<clipPath id="c41"><path d="M597.6,361.6L598.6,362.1L599.3,362.6L599.8,363.3L600.0,364.1L599.9,364.9L599.6,365.8L598.9,366.6L598.0,367.4L596.9,368.2L595.6,368.8L594.2,369.3L592.7,369.7L591.2,369.9L589.7,370.0L588.4,369.8L587.2,369.6L571.2,364.4L570.2,363.9L569.5,363.4L569.0,362.7L568.8,361.9L568.9,361.1L569.2,360.2L569.9,359.4L570.8,358.6L571.9,357.8L573.2,357.2L574.6,356.7L576.1,356.3L577.6,356.1L579.1,356.0L580.4,356.2L581.6,356.4Z"/></clipPath><g clip-path="url(#c41)"><path d="M597.6,361.6L598.6,362.1L599.3,362.6L599.8,363.3L600.0,364.1L599.9,364.9L599.6,365.8L598.9,366.6L598.0,367.4L596.9,368.2L595.6,368.8L594.2,369.3L592.7,369.7L591.2,369.9L589.7,370.0L588.4,369.8L587.2,369.6L571.2,364.4L570.2,363.9L569.5,363.4L569.0,362.7L568.8,361.9L568.9,361.1L569.2,360.2L569.9,359.4L570.8,358.6L571.9,357.8L573.2,357.2L574.6,356.7L576.1,356.3L577.6,356.1L579.1,356.0L580.4,356.2L581.6,356.4Z" transform="translate(0,7.2)"/><path d="M581.6,356.4v7.2"/><path d="M571.2,364.4v7.2"/><path d="M597.6,361.6v7.2"/><path d="M587.2,369.6v7.2"/></g>
<path d="M597.6,361.6L598.6,362.1L599.3,362.6L599.8,363.3L600.0,364.1L599.9,364.9L599.6,365.8L598.9,366.6L598.0,367.4L596.9,368.2L595.6,368.8L594.2,369.3L592.7,369.7L591.2,369.9L589.7,370.0L588.4,369.8L587.2,369.6L571.2,364.4L570.2,363.9L569.5,363.4L569.0,362.7L568.8,361.9L568.9,361.1L569.2,360.2L569.9,359.4L570.8,358.6L571.9,357.8L573.2,357.2L574.6,356.7L576.1,356.3L577.6,356.1L579.1,356.0L580.4,356.2L581.6,356.4Z"/>
<clipPath id="c42"><path d="M551.2,271.0L551.0,271.9L550.6,272.9L549.8,273.8L548.8,274.6L547.6,275.4L546.1,276.1L544.6,276.6L543.0,276.9L541.4,277.1L539.9,277.2L538.4,277.0L537.2,276.7L536.2,276.2L535.4,275.5L535.0,274.8L534.8,274.0L534.8,271.0L535.0,270.1L535.4,269.1L536.2,268.2L537.2,267.4L538.4,266.6L539.9,265.9L541.4,265.4L543.0,265.1L544.6,264.9L546.1,264.8L547.6,265.0L548.8,265.3L549.8,265.8L550.6,266.5L551.0,267.2L551.2,268.0Z"/></clipPath><g clip-path="url(#c42)"><path d="M551.2,271.0L551.0,271.9L550.6,272.9L549.8,273.8L548.8,274.6L547.6,275.4L546.1,276.1L544.6,276.6L543.0,276.9L541.4,277.1L539.9,277.2L538.4,277.0L537.2,276.7L536.2,276.2L535.4,275.5L535.0,274.8L534.8,274.0L534.8,271.0L535.0,270.1L535.4,269.1L536.2,268.2L537.2,267.4L538.4,266.6L539.9,265.9L541.4,265.4L543.0,265.1L544.6,264.9L546.1,264.8L547.6,265.0L548.8,265.3L549.8,265.8L550.6,266.5L551.0,267.2L551.2,268.0Z" transform="translate(0,7.2)"/><path d="M551.2,268.0v7.2"/><path d="M534.8,271.0v7.2"/><path d="M551.2,271.0v7.2"/><path d="M534.8,274.0v7.2"/></g>
<path d="M551.2,271.0L551.0,271.9L550.6,272.9L549.8,273.8L548.8,274.6L547.6,275.4L546.1,276.1L544.6,276.6L543.0,276.9L541.4,277.1L539.9,277.2L538.4,277.0L537.2,276.7L536.2,276.2L535.4,275.5L535.0,274.8L534.8,274.0L534.8,271.0L535.0,270.1L535.4,269.1L536.2,268.2L537.2,267.4L538.4,266.6L539.9,265.9L541.4,265.4L543.0,265.1L544.6,264.9L546.1,264.8L547.6,265.0L548.8,265.3L549.8,265.8L550.6,266.5L551.0,267.2L551.2,268.0Z"/>
<clipPath id="c43"><path d="M515.8,330.1L517.1,330.5L555.6,345.8L556.5,346.2L557.1,346.8L557.5,347.4L557.6,348.2L557.4,348.9L557.0,349.7L556.3,350.5L555.4,351.2L554.3,351.9L553.0,352.4L551.7,352.9L550.3,353.2L548.9,353.3L547.6,353.3L546.4,353.2L545.4,352.8L507.5,337.8L499.6,336.5L498.5,336.3L497.6,335.8L496.9,335.3L496.5,334.7L496.3,334.0L496.4,333.2L496.8,332.4L497.4,331.6L498.3,330.9L499.3,330.2L500.5,329.6L501.8,329.1L503.2,328.8L504.6,328.6L505.9,328.6L507.2,328.7Z"/></clipPath><g clip-path="url(#c43)"><path d="M515.8,330.1L517.1,330.5L555.6,345.8L556.5,346.2L557.1,346.8L557.5,347.4L557.6,348.2L557.4,348.9L557.0,349.7L556.3,350.5L555.4,351.2L554.3,351.9L553.0,352.4L551.7,352.9L550.3,353.2L548.9,353.3L547.6,353.3L546.4,353.2L545.4,352.8L507.5,337.8L499.6,336.5L498.5,336.3L497.6,335.8L496.9,335.3L496.5,334.7L496.3,334.0L496.4,333.2L496.8,332.4L497.4,331.6L498.3,330.9L499.3,330.2L500.5,329.6L501.8,329.1L503.2,328.8L504.6,328.6L505.9,328.6L507.2,328.7Z" transform="translate(0,7.2)"/><path d="M507.2,328.7v7.2"/><path d="M499.6,336.5v7.2"/><path d="M515.8,330.1v7.2"/><path d="M508.2,337.9v7.2"/><path d="M517.1,330.5v7.2"/><path d="M506.9,337.5v7.2"/><path d="M555.6,345.8v7.2"/><path d="M545.4,352.8v7.2"/></g>
<path d="M515.8,330.1L517.1,330.5L555.6,345.8L556.5,346.2L557.1,346.8L557.5,347.4L557.6,348.2L557.4,348.9L557.0,349.7L556.3,350.5L555.4,351.2L554.3,351.9L553.0,352.4L551.7,352.9L550.3,353.2L548.9,353.3L547.6,353.3L546.4,353.2L545.4,352.8L507.5,337.8L499.6,336.5L498.5,336.3L497.6,335.8L496.9,335.3L496.5,334.7L496.3,334.0L496.4,333.2L496.8,332.4L497.4,331.6L498.3,330.9L499.3,330.2L500.5,329.6L501.8,329.1L503.2,328.8L504.6,328.6L505.9,328.6L507.2,328.7Z"/>
<clipPath id="c44"><path d="M427.5,300.5C429.1,298.9 430.4,297.3 432.0,296.6C433.6,295.9 436.3,295.5 438.0,295.6C439.7,295.7 442.3,296.4 443.5,297.3C444.7,298.2 446.1,300.0 446.3,301.3C446.5,302.6 445.8,304.6 444.8,305.8C443.8,307.0 440.4,308.3 439.6,309.3C438.8,310.3 438.6,311.4 439.2,312.5C439.8,313.6 442.4,315.0 443.3,316.3C444.2,317.6 445.5,319.9 445.0,321.3C444.5,322.7 441.9,324.7 440.0,325.3C438.1,325.9 434.2,326.2 432.0,325.6C429.8,325.0 427.1,322.9 425.5,321.5C423.9,320.1 421.9,317.9 421.0,316.5C420.1,315.1 419.2,313.9 419.3,312.5C419.4,311.1 420.3,308.8 421.5,307.0C422.7,305.2 425.9,302.1 427.5,300.5Z"/></clipPath><g clip-path="url(#c44)"><path d="M427.5,300.5C429.1,298.9 430.4,297.3 432.0,296.6C433.6,295.9 436.3,295.5 438.0,295.6C439.7,295.7 442.3,296.4 443.5,297.3C444.7,298.2 446.1,300.0 446.3,301.3C446.5,302.6 445.8,304.6 444.8,305.8C443.8,307.0 440.4,308.3 439.6,309.3C438.8,310.3 438.6,311.4 439.2,312.5C439.8,313.6 442.4,315.0 443.3,316.3C444.2,317.6 445.5,319.9 445.0,321.3C444.5,322.7 441.9,324.7 440.0,325.3C438.1,325.9 434.2,326.2 432.0,325.6C429.8,325.0 427.1,322.9 425.5,321.5C423.9,320.1 421.9,317.9 421.0,316.5C420.1,315.1 419.2,313.9 419.3,312.5C419.4,311.1 420.3,308.8 421.5,307.0C422.7,305.2 425.9,302.1 427.5,300.5Z" transform="translate(0,7.2)"/><path d="M423.0,305.0v7.2"/><path d="M426.0,302.0v7.2"/><path d="M429.5,299.0v7.2"/><path d="M433.0,296.5v7.2"/></g>
<path d="M427.5,300.5C429.1,298.9 430.4,297.3 432.0,296.6C433.6,295.9 436.3,295.5 438.0,295.6C439.7,295.7 442.3,296.4 443.5,297.3C444.7,298.2 446.1,300.0 446.3,301.3C446.5,302.6 445.8,304.6 444.8,305.8C443.8,307.0 440.4,308.3 439.6,309.3C438.8,310.3 438.6,311.4 439.2,312.5C439.8,313.6 442.4,315.0 443.3,316.3C444.2,317.6 445.5,319.9 445.0,321.3C444.5,322.7 441.9,324.7 440.0,325.3C438.1,325.9 434.2,326.2 432.0,325.6C429.8,325.0 427.1,322.9 425.5,321.5C423.9,320.1 421.9,317.9 421.0,316.5C420.1,315.1 419.2,313.9 419.3,312.5C419.4,311.1 420.3,308.8 421.5,307.0C422.7,305.2 425.9,302.1 427.5,300.5Z"/>
<clipPath id="c45"><path d="M546.5,224.4L545.8,225.1L544.8,225.7L543.7,226.2L542.5,226.7L541.2,227.0L540.0,227.2L538.7,227.2L537.6,227.1L536.6,226.9L535.7,226.5L535.1,226.0L534.7,225.4L534.5,224.8L534.6,224.1L534.9,223.4L540.3,214.5L539.6,214.0L539.1,213.1L538.9,212.2L539.1,211.2L539.6,210.2L540.5,209.2L541.6,208.3L543.0,207.4L544.5,206.7L546.2,206.1L548.0,205.7L549.8,205.5L551.5,205.4L553.0,205.6L554.4,206.0L555.5,206.5L556.4,207.2L556.9,208.1L557.1,209.0L557.0,209.3L576.3,214.8L577.0,215.1L577.5,215.4L577.9,215.9L578.1,216.4L578.1,216.9L577.8,217.5L577.4,218.1L576.9,218.6L576.2,219.1L575.3,219.6L574.4,219.9L573.4,220.2L572.4,220.3L571.4,220.4L570.5,220.4L569.7,220.2L552.2,215.2L547.1,223.6Z"/></clipPath><g clip-path="url(#c45)"><path d="M546.5,224.4L545.8,225.1L544.8,225.7L543.7,226.2L542.5,226.7L541.2,227.0L540.0,227.2L538.7,227.2L537.6,227.1L536.6,226.9L535.7,226.5L535.1,226.0L534.7,225.4L534.5,224.8L534.6,224.1L534.9,223.4L540.3,214.5L539.6,214.0L539.1,213.1L538.9,212.2L539.1,211.2L539.6,210.2L540.5,209.2L541.6,208.3L543.0,207.4L544.5,206.7L546.2,206.1L548.0,205.7L549.8,205.5L551.5,205.4L553.0,205.6L554.4,206.0L555.5,206.5L556.4,207.2L556.9,208.1L557.1,209.0L557.0,209.3L576.3,214.8L577.0,215.1L577.5,215.4L577.9,215.9L578.1,216.4L578.1,216.9L577.8,217.5L577.4,218.1L576.9,218.6L576.2,219.1L575.3,219.6L574.4,219.9L573.4,220.2L572.4,220.3L571.4,220.4L570.5,220.4L569.7,220.2L552.2,215.2L547.1,223.6Z" transform="translate(0,7.2)"/><path d="M556.5,209.0v7.2"/><path d="M560.0,210.0v7.2"/><path d="M564.0,211.2v7.2"/><path d="M568.0,212.4v7.2"/></g>
<path d="M546.5,224.4L545.8,225.1L544.8,225.7L543.7,226.2L542.5,226.7L541.2,227.0L540.0,227.2L538.7,227.2L537.6,227.1L536.6,226.9L535.7,226.5L535.1,226.0L534.7,225.4L534.5,224.8L534.6,224.1L534.9,223.4L540.3,214.5L539.6,214.0L539.1,213.1L538.9,212.2L539.1,211.2L539.6,210.2L540.5,209.2L541.6,208.3L543.0,207.4L544.5,206.7L546.2,206.1L548.0,205.7L549.8,205.5L551.5,205.4L553.0,205.6L554.4,206.0L555.5,206.5L556.4,207.2L556.9,208.1L557.1,209.0L557.0,209.3L576.3,214.8L577.0,215.1L577.5,215.4L577.9,215.9L578.1,216.4L578.1,216.9L577.8,217.5L577.4,218.1L576.9,218.6L576.2,219.1L575.3,219.6L574.4,219.9L573.4,220.2L572.4,220.3L571.4,220.4L570.5,220.4L569.7,220.2L552.2,215.2L547.1,223.6Z"/>
<clipPath id="c46"><path d="M605.5,199.5C605.6,198.4 606.4,196.1 607.5,195.2C608.6,194.3 611.2,193.4 613.0,193.2C614.8,193.0 617.8,193.3 619.5,193.8C621.2,194.3 623.4,196.6 624.5,196.6C625.6,196.6 625.9,194.5 627.0,193.5C628.1,192.5 630.3,190.9 632.0,190.2C633.7,189.5 636.6,188.9 638.5,189.0C640.4,189.1 643.1,189.8 644.5,190.7C645.9,191.6 647.3,193.7 648.0,195.0C648.7,196.3 648.6,198.3 649.2,199.5C649.8,200.7 651.7,201.8 652.0,203.0C652.3,204.2 652.1,206.6 651.5,207.5C650.9,208.4 648.5,207.9 647.8,209.0C647.1,210.1 647.2,212.9 646.7,214.5C646.2,216.1 645.8,218.2 644.5,219.5C643.2,220.8 640.0,222.8 638.0,223.0C636.0,223.2 632.9,221.4 631.5,220.5C630.1,219.6 629.4,218.2 628.8,216.8C628.2,215.5 628.4,212.8 627.8,211.5C627.2,210.2 626.3,208.6 625.0,207.8C623.7,207.0 621.1,206.8 619.0,206.3C616.9,205.9 612.8,205.4 611.0,204.8C609.2,204.2 607.8,203.3 607.0,202.5C606.2,201.7 605.4,200.6 605.5,199.5Z"/></clipPath><g clip-path="url(#c46)"><path d="M605.5,199.5C605.6,198.4 606.4,196.1 607.5,195.2C608.6,194.3 611.2,193.4 613.0,193.2C614.8,193.0 617.8,193.3 619.5,193.8C621.2,194.3 623.4,196.6 624.5,196.6C625.6,196.6 625.9,194.5 627.0,193.5C628.1,192.5 630.3,190.9 632.0,190.2C633.7,189.5 636.6,188.9 638.5,189.0C640.4,189.1 643.1,189.8 644.5,190.7C645.9,191.6 647.3,193.7 648.0,195.0C648.7,196.3 648.6,198.3 649.2,199.5C649.8,200.7 651.7,201.8 652.0,203.0C652.3,204.2 652.1,206.6 651.5,207.5C650.9,208.4 648.5,207.9 647.8,209.0C647.1,210.1 647.2,212.9 646.7,214.5C646.2,216.1 645.8,218.2 644.5,219.5C643.2,220.8 640.0,222.8 638.0,223.0C636.0,223.2 632.9,221.4 631.5,220.5C630.1,219.6 629.4,218.2 628.8,216.8C628.2,215.5 628.4,212.8 627.8,211.5C627.2,210.2 626.3,208.6 625.0,207.8C623.7,207.0 621.1,206.8 619.0,206.3C616.9,205.9 612.8,205.4 611.0,204.8C609.2,204.2 607.8,203.3 607.0,202.5C606.2,201.7 605.4,200.6 605.5,199.5Z" transform="translate(0,7.2)"/><path d="M624.3,196.8v7.2"/><path d="M627.0,193.8v7.2"/><path d="M648.5,197.0v7.2"/></g>
<path d="M605.5,199.5C605.6,198.4 606.4,196.1 607.5,195.2C608.6,194.3 611.2,193.4 613.0,193.2C614.8,193.0 617.8,193.3 619.5,193.8C621.2,194.3 623.4,196.6 624.5,196.6C625.6,196.6 625.9,194.5 627.0,193.5C628.1,192.5 630.3,190.9 632.0,190.2C633.7,189.5 636.6,188.9 638.5,189.0C640.4,189.1 643.1,189.8 644.5,190.7C645.9,191.6 647.3,193.7 648.0,195.0C648.7,196.3 648.6,198.3 649.2,199.5C649.8,200.7 651.7,201.8 652.0,203.0C652.3,204.2 652.1,206.6 651.5,207.5C650.9,208.4 648.5,207.9 647.8,209.0C647.1,210.1 647.2,212.9 646.7,214.5C646.2,216.1 645.8,218.2 644.5,219.5C643.2,220.8 640.0,222.8 638.0,223.0C636.0,223.2 632.9,221.4 631.5,220.5C630.1,219.6 629.4,218.2 628.8,216.8C628.2,215.5 628.4,212.8 627.8,211.5C627.2,210.2 626.3,208.6 625.0,207.8C623.7,207.0 621.1,206.8 619.0,206.3C616.9,205.9 612.8,205.4 611.0,204.8C609.2,204.2 607.8,203.3 607.0,202.5C606.2,201.7 605.4,200.6 605.5,199.5Z"/>
<path d="M597,220.6 L642,222.2 M597,227.8 L636,229.2"/>
<path d="M601.4,221.0 v7"/>
<path d="M606.7,221.1 v7"/>
<path d="M611.9,221.3 v7"/>
<path d="M617.2,221.5 v7"/>
<path d="M622.5,221.7 v7"/>
<path d="M628.0,221.9 v7"/>
<path d="M164.5,168 L222,131.5"/>
<path d="M166,174.6 L223,138.6"/>
<path d="M164.5,168 L158.5,173.2 M166,174.6 L165,181.2 M164.5,168 L166,174.6"/>
<path d="M158.5,173.2 L158.2,180 Q161,182 165,181.2"/>
<path d="M160.1,173.2 v6.4" stroke-width="1.4"/>
<path d="M161.7,172.9 v6.4" stroke-width="1.4"/>
<path d="M163.3,172.7 v6.4" stroke-width="1.4"/>
<path d="M158.5,173.2C158.1,172.3 157.3,168.8 156.0,167.5C154.7,166.2 151.9,164.6 150.0,164.3C148.1,164.0 144.7,164.5 143.0,165.3C141.3,166.1 139.1,168.0 138.6,169.5C138.1,171.0 138.8,173.5 139.5,175.0C140.2,176.5 142.4,178.7 143.5,179.8C144.6,180.9 145.7,181.4 146.5,182.3C147.3,183.2 148.1,185.1 149.0,186.0C149.9,186.9 150.8,187.7 152.5,188.3C154.2,188.9 157.9,190.0 160.0,189.8C162.1,189.6 165.0,188.1 166.8,186.8C168.6,185.5 170.1,182.2 172.0,181.0C173.9,179.8 177.2,178.8 179.5,178.5C181.8,178.2 185.0,178.9 187.0,179.3C189.0,179.8 191.2,180.8 193.0,181.5C194.8,182.2 197.2,183.6 199.0,183.8C200.8,184.0 203.4,183.7 205.0,183.0C206.6,182.3 208.7,180.7 209.5,179.3C210.3,178.0 210.8,175.3 210.3,174.0C209.9,172.7 207.1,170.9 206.5,170.3"/>
<path d="M140.8,175.5 Q146,170.5 152,170.2 Q156,170.5 158.3,173.4"/>
<path d="M206.5,170.3 L222.3,158.6"/>
<path d="M206.8,171 Q208.8,174 207.8,178.8"/>
<path d="M266,98 L288.2,105.4 Q291.2,107.4 289.1,109.7 L270.9,122.2"/>
<path d="M269,99.2 v7 L286.4,111.6"/>
<path d="M558.9,299.1 L600,270.5"/>
<path d="M561.1,305.9 L600.5,278"/>
<path d="M558.9,299.1 L561.1,305.9 M556.5,299.3 L557.8,306.2 L561.1,305.9"/>
<path d="M558.9,299.1C558.0,299.0 555.1,298.4 553.2,298.3C551.3,298.2 548.4,298.1 546.4,298.5C544.4,298.9 541.5,299.9 539.7,300.8C537.9,301.7 535.2,303.8 534.6,304.8C534.0,305.9 534.6,307.1 535.4,307.8C536.2,308.5 538.4,309.1 539.7,309.3C541.0,309.5 542.9,309.0 544.2,309.4C545.6,309.8 547.5,311.1 548.7,312.1C549.9,313.1 551.5,314.8 552.1,316.0C552.7,317.2 553.0,318.8 552.7,320.0C552.4,321.2 551.3,322.9 550.4,323.9C549.5,324.9 547.8,326.2 546.4,326.4C545.0,326.6 542.3,325.1 541.0,325.3C539.7,325.5 537.9,326.7 537.6,327.6C537.3,328.5 537.5,330.5 539.0,331.0C540.5,331.5 544.6,330.4 547.5,330.8C550.4,331.2 554.6,333.0 558.0,333.5C561.4,334.0 566.7,334.3 570.0,334.3C573.3,334.3 577.5,334.1 580.0,333.6C582.5,333.1 585.5,332.0 587.0,331.0C588.5,330.0 589.9,328.0 589.9,326.8C589.9,325.6 588.5,323.6 587.0,322.8C585.5,322.0 581.0,321.5 580.0,321.3"/>
<path d="M601.7,302.2 L575,319.8 L564.6,321.2 L564.6,329.5 Q565.5,332.5 568.5,333.6"/>
<path d="M567,321 v7.5 M569.5,320.7 v7.5 M575,319.8 v7" stroke-width="1.3"/>
<path d="M569.5,328.2 Q578,326.5 587.5,329.5"/>
<path d="M537,303.2 Q541,305.3 544.5,305.8 L556.5,306.2"/>
<path d="M540.0,300.8 v6.6"/>
<path d="M546.4,298.6 v6.6"/>
<path d="M552.5,298.4 v6.6"/>
<path d="M550.6,314.5 l-2.2,5.0"/>
<path d="M552.2,317.5 l-2.2,5.5"/>
<path d="M551.5,322.0 l-2.2,4.5"/>
<path d="M548.5,325.3 l-2.2,4.0"/>
<path d="M173.6,147.6 L171,125 C170.5,108 178,90 192,77.5 L211.9,63.1 L216.9,53.8 L232.5,28.8 L240,28.8 L241.9,32.5 Q244.5,42 243.7,50 Q242.5,62 240,70 L232.3,92.4 L241,95 C244,93.5 247,92.8 249.8,92.4 C256,91.4 262,94.5 266.6,101.5 C269,108 270.5,120 270.9,130 L270.8,138 L227.9,167.8 L222.6,166 L220,141.5 L220,132.6 L219.6,126 L219,125.8 L178,151 Z" fill="#fff" stroke="none"/>
<path d="M232.5,28.8 L240,28.8 L241.9,32.5 Q244.5,42 243.7,50 Q242.5,62 240,70 L232.3,92.4"/>
<path d="M232.5,28.8 L216.9,53.8 L211.9,63.1"/>
<path d="M239,29.8 L218.8,63.1"/>
<path d="M211.9,63.1 L218.8,63.1 L219.5,66.3 L212.5,66.3 Z"/>
<path d="M216.5,66.3 L219.1,86.3"/>
<path d="M220,66.3 L221.8,88"/>
<path d="M173.6,147.6 L171,125 C170.5,108 178,90 192,77.5 L212,63.5"/>
<path d="M178,151 L176,122 C176,108 182,92 193.8,80 L214,66.5"/>
<path d="M173.6,147.6 L178,151 L219,125.8"/>
<path d="M171.3,112 l5.2,1.5 M171.3,131 l4.9,1.5"/>
<path d="M201.6,81.9 L241,95"/>
<path d="M189.4,114.3 L221.8,125.6"/>
<path d="M201.6,81.9 C192,85 186,95 185.9,105.5 Q186.5,111 189.4,114.3"/>
<path d="M222.6,166 L220,141.5 L220,132.6 C221,117 230,100 249.8,92.4 C256,91.4 262,94.5 266.6,101.5"/>
<path d="M227.9,167.8 L225.3,143.3 L225.3,132.6 C226,114 237,94.1 253.3,94.1 C263,94.1 269.8,108 270.9,130 L270.8,138 Z"/>
<path d="M222.6,166 L227.9,167.8"/>
<path d="M220.2,137.5 l5.1,1.5"/>
<ellipse cx="247" cy="117.2" rx="11.7" ry="17" transform="rotate(8 247 117.2)" stroke-width="1.7"/>
<path d="M552.8,286.8 L550.8,262 C551.5,240 565,214 583,214 C591,214 597.5,219 598.8,227 L620,236 C627,229 634,224 641.8,220.2 L642.5,219.3 L747.3,214.4 C753.4,216 757.7,221.5 760.3,227.5 Q761.5,234 762.4,247 L651.9,276.5 L607.2,307.9 L601.9,306.1 L599.8,280 L599.6,273 L600.5,265.5 L599.3,264.9 L558,289.5 Z" fill="#fff" stroke="none"/>
<path d="M552.8,286.8 L550.8,262 C551.5,240 565,214 583,214 C591,214 597.5,219 598.8,227"/>
<path d="M558,289.5 L556.6,264 C557.5,245 568,222 582.1,218.4"/>
<path d="M552.8,286.8 L558,289.5 L599.3,264.9"/>
<path d="M551,268 l5.6,1.6"/>
<path d="M581.2,220.2 L621.6,236"/>
<path d="M569,254.4 L600.5,265.5"/>
<path d="M581.2,220.2 C572,224 565,234 564.6,242.1 Q565,250 569,254.4"/>
<path d="M601.9,306.1 L599.8,280 L599.6,273 C601,255 615,232 641.8,220.2"/>
<path d="M607.2,307.9 L605.6,280 L605.8,273 C607,256 620,236 645.3,222.8"/>
<path d="M601.9,306.1 L607.2,307.9 L651.9,276.5"/>
<path d="M599.7,277 l5.9,1.6"/>
<ellipse cx="625.8" cy="256" rx="11.8" ry="17.3" transform="rotate(10 625.8 256)" stroke-width="1.7"/>
<path d="M641.8,220.2 L642.5,219.3 L747.3,214.4 C753.4,216 757.7,221.5 760.3,227.5 Q761.5,234 762.4,247 L651.9,276.5 L645.3,222.8"/>
<path d="M642.5,219.3 L649.5,277"/>
<path d="M647,221.9 L745,217.6 L747.3,214.4"/></g></svg></body></html>
